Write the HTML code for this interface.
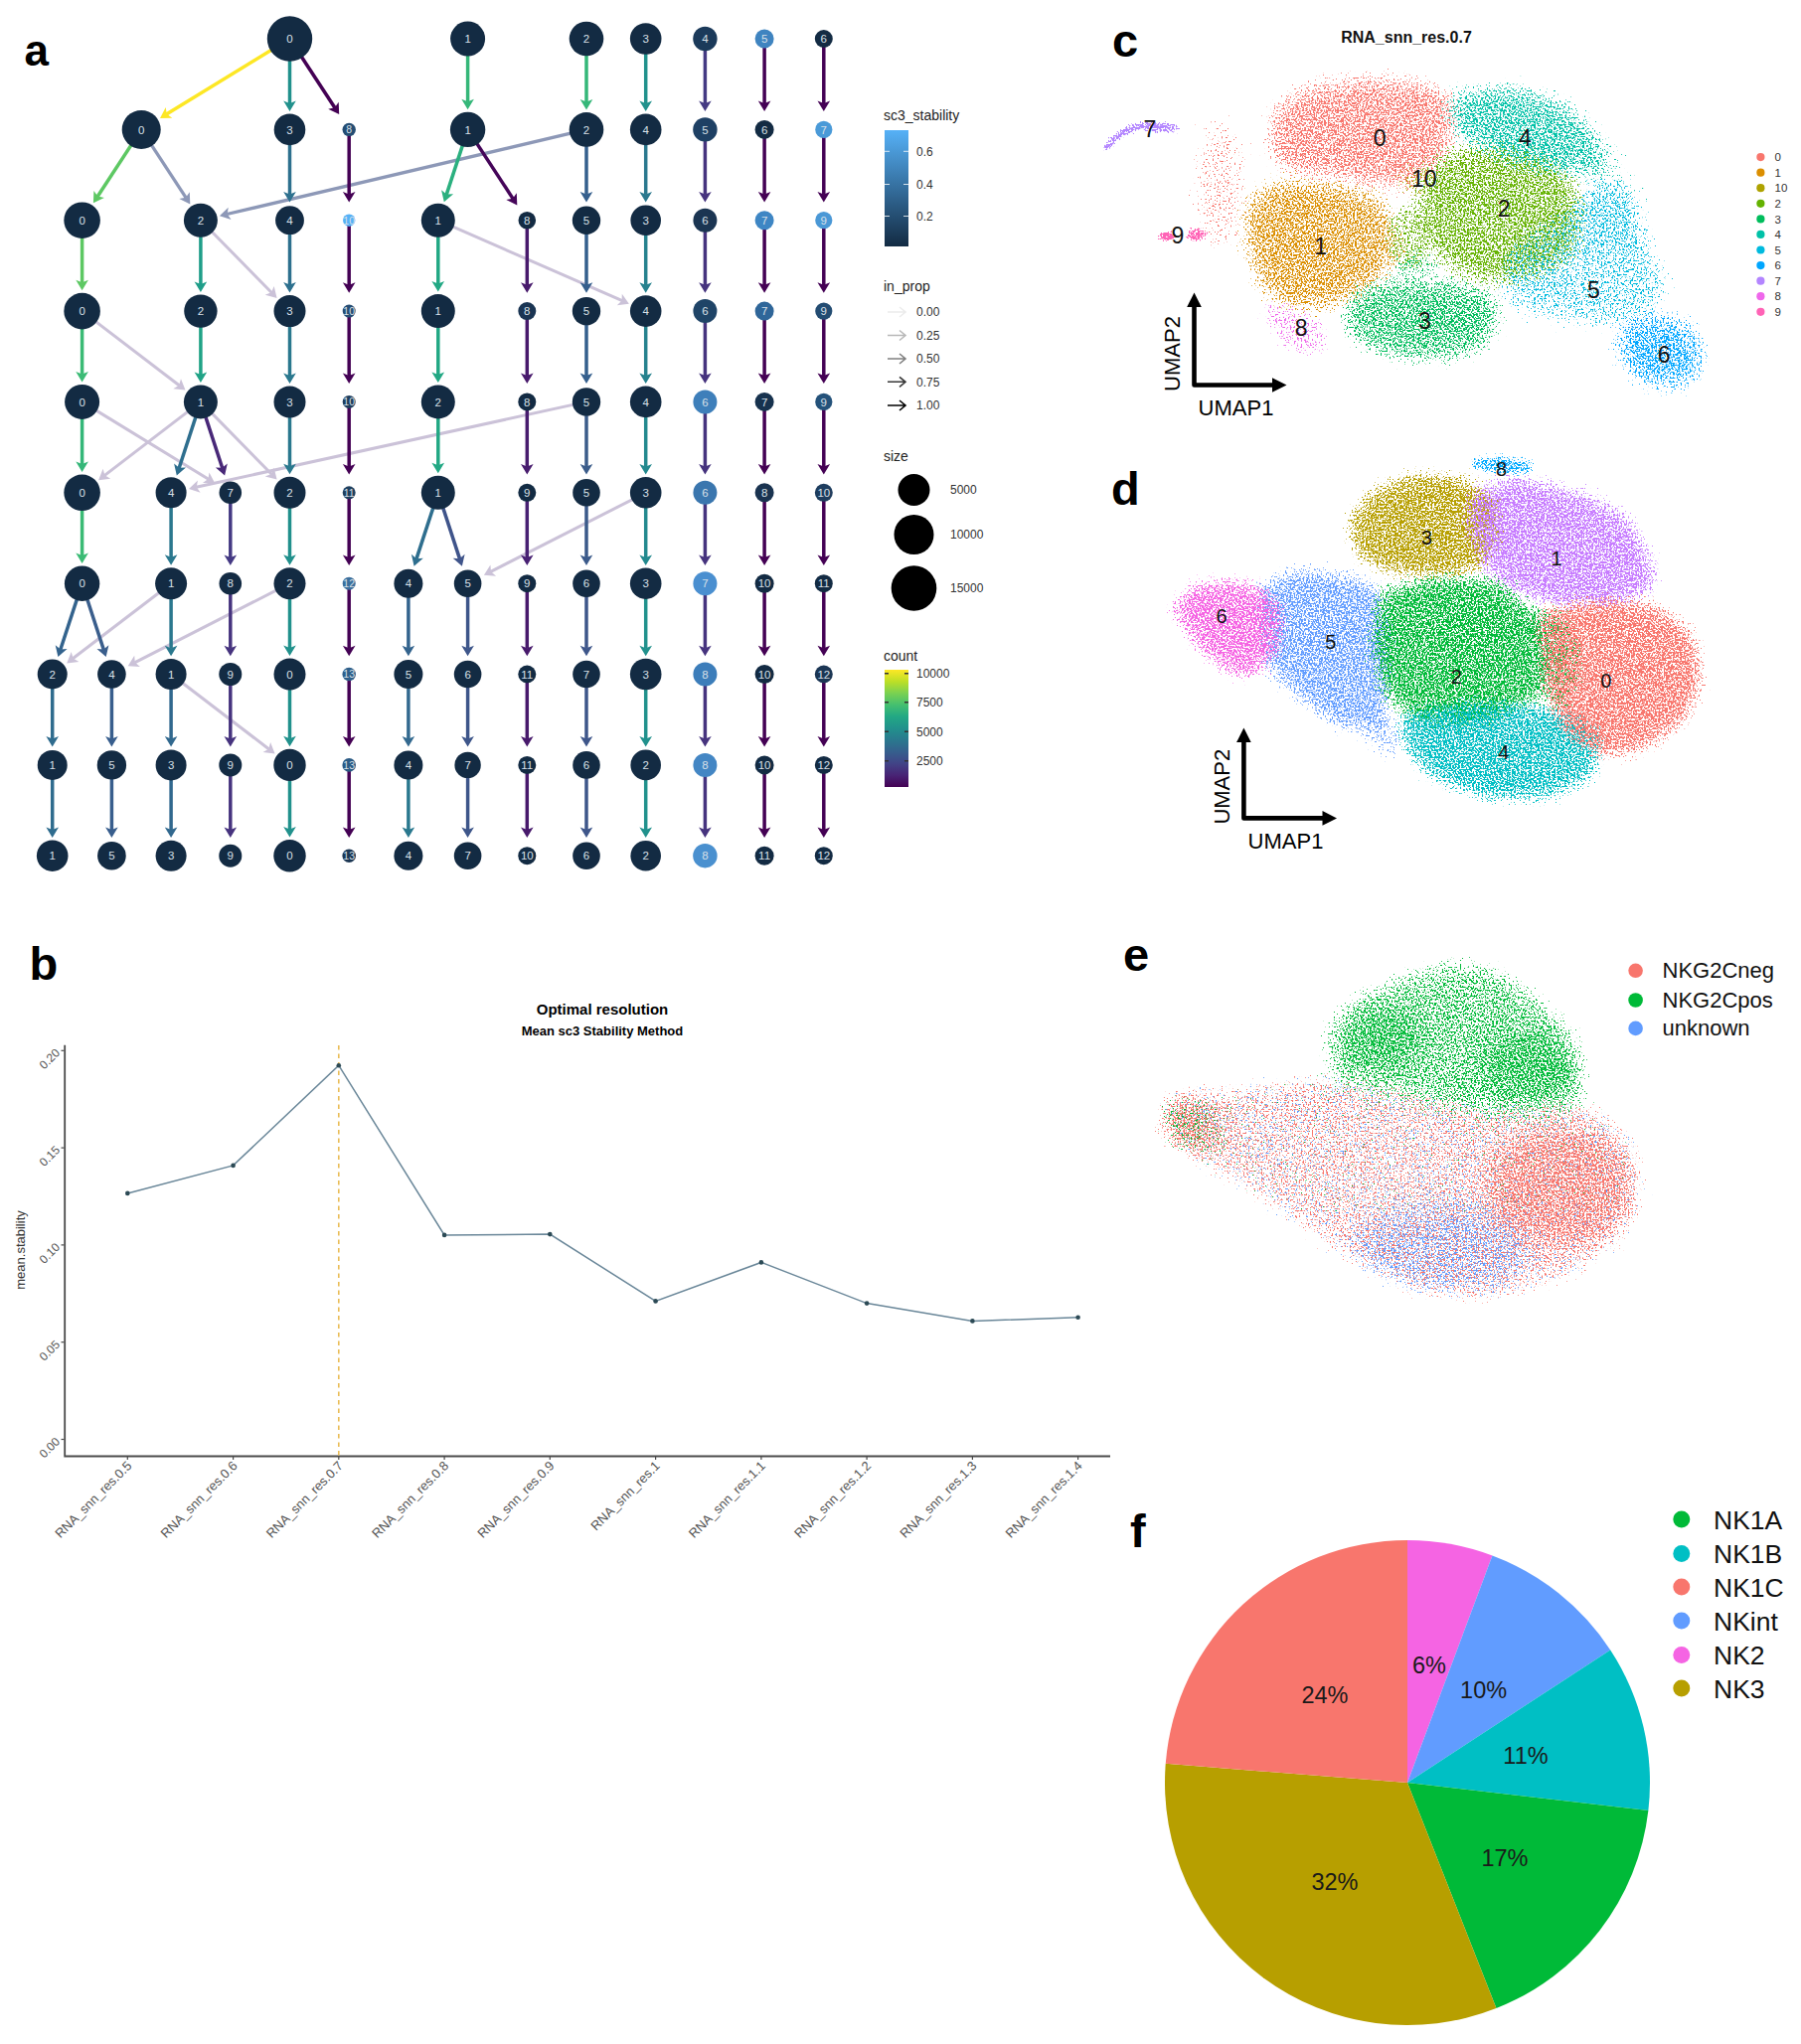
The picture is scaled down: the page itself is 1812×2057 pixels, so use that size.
<!DOCTYPE html><html><head><meta charset="utf-8"><title>Figure</title>
<style>html,body{margin:0;padding:0;background:#fff;}svg{display:block;}</style></head><body>
<svg width="1812" height="2057" viewBox="0 0 1812 2057">
<rect width="1812" height="2057" fill="#fff"/>
<defs><filter id="st1" filterUnits="userSpaceOnUse" x="1180" y="40" width="320" height="200" color-interpolation-filters="sRGB"><feGaussianBlur in="SourceAlpha" stdDeviation="12" result="b"/><feTurbulence type="fractalNoise" baseFrequency="0.55" numOctaves="2" seed="5" result="n"/><feColorMatrix in="n" type="matrix" values="0 0 0 0 0 0 0 0 0 0 0 0 0 0 0 1 0 0 0 0" result="na"/><feComposite in="b" in2="na" operator="arithmetic" k1="0" k2="0.5" k3="1" k4="-0.97" result="m"/><feComponentTransfer in="m" result="mt"><feFuncA type="linear" slope="14" intercept="0"/></feComponentTransfer><feFlood flood-color="#F8766D"/><feComposite in2="mt" operator="in"/><feGaussianBlur stdDeviation="0.35"/></filter><filter id="st2" filterUnits="userSpaceOnUse" x="1210" y="150" width="230" height="200" color-interpolation-filters="sRGB"><feGaussianBlur in="SourceAlpha" stdDeviation="12" result="b"/><feTurbulence type="fractalNoise" baseFrequency="0.55" numOctaves="2" seed="9" result="n"/><feColorMatrix in="n" type="matrix" values="0 0 0 0 0 0 0 0 0 0 0 0 0 0 0 1 0 0 0 0" result="na"/><feComposite in="b" in2="na" operator="arithmetic" k1="0" k2="0.5" k3="1" k4="-0.97" result="m"/><feComponentTransfer in="m" result="mt"><feFuncA type="linear" slope="14" intercept="0"/></feComponentTransfer><feFlood flood-color="#DB8E00"/><feComposite in2="mt" operator="in"/><feGaussianBlur stdDeviation="0.35"/></filter><filter id="st3" filterUnits="userSpaceOnUse" x="1370" y="130" width="120" height="110" color-interpolation-filters="sRGB"><feGaussianBlur in="SourceAlpha" stdDeviation="12" result="b"/><feTurbulence type="fractalNoise" baseFrequency="0.55" numOctaves="2" seed="13" result="n"/><feColorMatrix in="n" type="matrix" values="0 0 0 0 0 0 0 0 0 0 0 0 0 0 0 1 0 0 0 0" result="na"/><feComposite in="b" in2="na" operator="arithmetic" k1="0" k2="0.5" k3="1" k4="-0.97" result="m"/><feComponentTransfer in="m" result="mt"><feFuncA type="linear" slope="14" intercept="0"/></feComponentTransfer><feFlood flood-color="#AEA200"/><feComposite in2="mt" operator="in"/><feGaussianBlur stdDeviation="0.35"/></filter><filter id="st4" filterUnits="userSpaceOnUse" x="1390" y="110" width="240" height="210" color-interpolation-filters="sRGB"><feGaussianBlur in="SourceAlpha" stdDeviation="12" result="b"/><feTurbulence type="fractalNoise" baseFrequency="0.55" numOctaves="2" seed="17" result="n"/><feColorMatrix in="n" type="matrix" values="0 0 0 0 0 0 0 0 0 0 0 0 0 0 0 1 0 0 0 0" result="na"/><feComposite in="b" in2="na" operator="arithmetic" k1="0" k2="0.5" k3="1" k4="-0.97" result="m"/><feComponentTransfer in="m" result="mt"><feFuncA type="linear" slope="14" intercept="0"/></feComponentTransfer><feFlood flood-color="#64B200"/><feComposite in2="mt" operator="in"/><feGaussianBlur stdDeviation="0.35"/></filter><filter id="st5" filterUnits="userSpaceOnUse" x="1320" y="250" width="220" height="140" color-interpolation-filters="sRGB"><feGaussianBlur in="SourceAlpha" stdDeviation="12" result="b"/><feTurbulence type="fractalNoise" baseFrequency="0.55" numOctaves="2" seed="21" result="n"/><feColorMatrix in="n" type="matrix" values="0 0 0 0 0 0 0 0 0 0 0 0 0 0 0 1 0 0 0 0" result="na"/><feComposite in="b" in2="na" operator="arithmetic" k1="0" k2="0.5" k3="1" k4="-0.97" result="m"/><feComponentTransfer in="m" result="mt"><feFuncA type="linear" slope="14" intercept="0"/></feComponentTransfer><feFlood flood-color="#00BD5C"/><feComposite in2="mt" operator="in"/><feGaussianBlur stdDeviation="0.35"/></filter><filter id="st6" filterUnits="userSpaceOnUse" x="1430" y="50" width="250" height="190" color-interpolation-filters="sRGB"><feGaussianBlur in="SourceAlpha" stdDeviation="12" result="b"/><feTurbulence type="fractalNoise" baseFrequency="0.55" numOctaves="2" seed="25" result="n"/><feColorMatrix in="n" type="matrix" values="0 0 0 0 0 0 0 0 0 0 0 0 0 0 0 1 0 0 0 0" result="na"/><feComposite in="b" in2="na" operator="arithmetic" k1="0" k2="0.5" k3="1" k4="-0.97" result="m"/><feComponentTransfer in="m" result="mt"><feFuncA type="linear" slope="14" intercept="0"/></feComponentTransfer><feFlood flood-color="#00C1A7"/><feComposite in2="mt" operator="in"/><feGaussianBlur stdDeviation="0.35"/></filter><filter id="st7" filterUnits="userSpaceOnUse" x="1480" y="180" width="250" height="210" color-interpolation-filters="sRGB"><feGaussianBlur in="SourceAlpha" stdDeviation="12" result="b"/><feTurbulence type="fractalNoise" baseFrequency="0.55" numOctaves="2" seed="29" result="n"/><feColorMatrix in="n" type="matrix" values="0 0 0 0 0 0 0 0 0 0 0 0 0 0 0 1 0 0 0 0" result="na"/><feComposite in="b" in2="na" operator="arithmetic" k1="0" k2="0.5" k3="1" k4="-0.97" result="m"/><feComponentTransfer in="m" result="mt"><feFuncA type="linear" slope="14" intercept="0"/></feComponentTransfer><feFlood flood-color="#00BADE"/><feComposite in2="mt" operator="in"/><feGaussianBlur stdDeviation="0.35"/></filter><filter id="st8" filterUnits="userSpaceOnUse" x="1590" y="290" width="160" height="130" color-interpolation-filters="sRGB"><feGaussianBlur in="SourceAlpha" stdDeviation="12" result="b"/><feTurbulence type="fractalNoise" baseFrequency="0.55" numOctaves="2" seed="33" result="n"/><feColorMatrix in="n" type="matrix" values="0 0 0 0 0 0 0 0 0 0 0 0 0 0 0 1 0 0 0 0" result="na"/><feComposite in="b" in2="na" operator="arithmetic" k1="0" k2="0.5" k3="1" k4="-0.97" result="m"/><feComponentTransfer in="m" result="mt"><feFuncA type="linear" slope="14" intercept="0"/></feComponentTransfer><feFlood flood-color="#00A6FF"/><feComposite in2="mt" operator="in"/><feGaussianBlur stdDeviation="0.35"/></filter><filter id="st9" filterUnits="userSpaceOnUse" x="1090" y="100" width="150" height="80" color-interpolation-filters="sRGB"><feGaussianBlur in="SourceAlpha" stdDeviation="2.5" result="b"/><feTurbulence type="fractalNoise" baseFrequency="0.55" numOctaves="2" seed="37" result="n"/><feColorMatrix in="n" type="matrix" values="0 0 0 0 0 0 0 0 0 0 0 0 0 0 0 1 0 0 0 0" result="na"/><feComposite in="b" in2="na" operator="arithmetic" k1="0" k2="0.6" k3="1" k4="-0.95" result="m"/><feComponentTransfer in="m" result="mt"><feFuncA type="linear" slope="14" intercept="0"/></feComponentTransfer><feFlood flood-color="#B385FF"/><feComposite in2="mt" operator="in"/><feGaussianBlur stdDeviation="0.35"/></filter><filter id="st10" filterUnits="userSpaceOnUse" x="1250" y="280" width="120" height="100" color-interpolation-filters="sRGB"><feGaussianBlur in="SourceAlpha" stdDeviation="8" result="b"/><feTurbulence type="fractalNoise" baseFrequency="0.55" numOctaves="2" seed="41" result="n"/><feColorMatrix in="n" type="matrix" values="0 0 0 0 0 0 0 0 0 0 0 0 0 0 0 1 0 0 0 0" result="na"/><feComposite in="b" in2="na" operator="arithmetic" k1="0" k2="0.5" k3="1" k4="-0.97" result="m"/><feComponentTransfer in="m" result="mt"><feFuncA type="linear" slope="14" intercept="0"/></feComponentTransfer><feFlood flood-color="#EF67EB"/><feComposite in2="mt" operator="in"/><feGaussianBlur stdDeviation="0.35"/></filter><filter id="st11" filterUnits="userSpaceOnUse" x="1150" y="215" width="85" height="45" color-interpolation-filters="sRGB"><feGaussianBlur in="SourceAlpha" stdDeviation="2.5" result="b"/><feTurbulence type="fractalNoise" baseFrequency="0.55" numOctaves="2" seed="45" result="n"/><feColorMatrix in="n" type="matrix" values="0 0 0 0 0 0 0 0 0 0 0 0 0 0 0 1 0 0 0 0" result="na"/><feComposite in="b" in2="na" operator="arithmetic" k1="0" k2="0.7" k3="1" k4="-0.95" result="m"/><feComponentTransfer in="m" result="mt"><feFuncA type="linear" slope="14" intercept="0"/></feComponentTransfer><feFlood flood-color="#FF63B6"/><feComposite in2="mt" operator="in"/><feGaussianBlur stdDeviation="0.35"/></filter><filter id="st12" filterUnits="userSpaceOnUse" x="1170" y="100" width="120" height="170" color-interpolation-filters="sRGB"><feGaussianBlur in="SourceAlpha" stdDeviation="12" result="b"/><feTurbulence type="fractalNoise" baseFrequency="0.55" numOctaves="2" seed="49" result="n"/><feColorMatrix in="n" type="matrix" values="0 0 0 0 0 0 0 0 0 0 0 0 0 0 0 1 0 0 0 0" result="na"/><feComposite in="b" in2="na" operator="arithmetic" k1="0" k2="0.5" k3="1" k4="-0.97" result="m"/><feComponentTransfer in="m" result="mt"><feFuncA type="linear" slope="14" intercept="0"/></feComponentTransfer><feFlood flood-color="#F8766D"/><feComposite in2="mt" operator="in"/><feGaussianBlur stdDeviation="0.35"/></filter><filter id="st13" filterUnits="userSpaceOnUse" x="1370" y="180" width="90" height="90" color-interpolation-filters="sRGB"><feGaussianBlur in="SourceAlpha" stdDeviation="9" result="b"/><feTurbulence type="fractalNoise" baseFrequency="0.55" numOctaves="2" seed="53" result="n"/><feColorMatrix in="n" type="matrix" values="0 0 0 0 0 0 0 0 0 0 0 0 0 0 0 1 0 0 0 0" result="na"/><feComposite in="b" in2="na" operator="arithmetic" k1="0" k2="0.5" k3="1" k4="-0.97" result="m"/><feComponentTransfer in="m" result="mt"><feFuncA type="linear" slope="14" intercept="0"/></feComponentTransfer><feFlood flood-color="#64B200"/><feComposite in2="mt" operator="in"/><feGaussianBlur stdDeviation="0.35"/></filter><filter id="st14" filterUnits="userSpaceOnUse" x="1360" y="180" width="100" height="120" color-interpolation-filters="sRGB"><feGaussianBlur in="SourceAlpha" stdDeviation="9" result="b"/><feTurbulence type="fractalNoise" baseFrequency="0.55" numOctaves="2" seed="57" result="n"/><feColorMatrix in="n" type="matrix" values="0 0 0 0 0 0 0 0 0 0 0 0 0 0 0 1 0 0 0 0" result="na"/><feComposite in="b" in2="na" operator="arithmetic" k1="0" k2="0.5" k3="1" k4="-0.97" result="m"/><feComponentTransfer in="m" result="mt"><feFuncA type="linear" slope="14" intercept="0"/></feComponentTransfer><feFlood flood-color="#DB8E00"/><feComposite in2="mt" operator="in"/><feGaussianBlur stdDeviation="0.35"/></filter><filter id="st15" filterUnits="userSpaceOnUse" x="1360" y="220" width="100" height="100" color-interpolation-filters="sRGB"><feGaussianBlur in="SourceAlpha" stdDeviation="9" result="b"/><feTurbulence type="fractalNoise" baseFrequency="0.55" numOctaves="2" seed="61" result="n"/><feColorMatrix in="n" type="matrix" values="0 0 0 0 0 0 0 0 0 0 0 0 0 0 0 1 0 0 0 0" result="na"/><feComposite in="b" in2="na" operator="arithmetic" k1="0" k2="0.5" k3="1" k4="-0.97" result="m"/><feComponentTransfer in="m" result="mt"><feFuncA type="linear" slope="14" intercept="0"/></feComponentTransfer><feFlood flood-color="#00BD5C"/><feComposite in2="mt" operator="in"/><feGaussianBlur stdDeviation="0.35"/></filter></defs><g filter="url(#st1)"><path d="M1280 107L1313 85L1369 77L1424 79L1460 93L1466 129L1452 165L1424 190L1385 190L1347 179L1299 177L1274 152Z" fill="#000" stroke="#000" stroke-width="12" stroke-linejoin="round" opacity="1.0"/><ellipse cx="1458" cy="118" rx="14" ry="32" fill="#000" fill-opacity="0.8"/></g><g filter="url(#st2)"><path d="M1252 199L1286 179L1341 182L1385 193L1408 227L1402 271L1374 296L1335 312L1300 314L1266 290L1249 240Z" fill="#000" stroke="#000" stroke-width="12" stroke-linejoin="round" opacity="1.0"/></g><g filter="url(#st3)"><ellipse cx="1430" cy="183" rx="34" ry="24" fill="#000" fill-opacity="0.85"/></g><g filter="url(#st4)"><path d="M1447 152L1494 143L1549 152L1585 177L1596 215L1585 260L1549 282L1494 288L1452 271L1424 232L1424 185Z" fill="#000" stroke="#000" stroke-width="12" stroke-linejoin="round" opacity="1.0"/></g><g filter="url(#st5)"><path d="M1355 296L1397 279L1452 279L1494 288L1513 310L1502 346L1466 363L1410 363L1369 349L1349 327Z" fill="#000" stroke="#000" stroke-width="12" stroke-linejoin="round" opacity="1.0"/></g><g filter="url(#st6)"><path d="M1463 96L1494 85L1535 87L1577 104L1605 129L1619 157L1605 177L1563 177L1521 166L1480 149L1460 124Z" fill="#000" stroke="#000" stroke-width="12" stroke-linejoin="round" opacity="1.0"/><ellipse cx="1630" cy="185" rx="30" ry="45" transform="rotate(-30 1630 185)" fill="#000" fill-opacity="0.5"/><ellipse cx="1462" cy="112" rx="14" ry="32" fill="#000" fill-opacity="0.75"/></g><g filter="url(#st7)"><path d="M1521 240L1560 222L1598 185L1625 168L1648 205L1663 250L1680 290L1663 318L1641 327L1591 327L1549 320L1512 305L1508 265Z" fill="#000" stroke="#000" stroke-width="12" stroke-linejoin="round" opacity="0.85"/><ellipse cx="1625" cy="215" rx="35" ry="40" fill="#000" fill-opacity="0.4"/></g><g filter="url(#st8)"><path d="M1624 327L1660 313L1696 321L1716 346L1713 379L1688 393L1652 388L1630 365Z" fill="#000" stroke="#000" stroke-width="12" stroke-linejoin="round" opacity="1.0"/></g><g filter="url(#st9)"><path d="M1111 152Q1124 131 1150 126L1186 129" stroke="#000" stroke-width="9" fill="none"/><ellipse cx="1165" cy="128" rx="20" ry="6" fill="#000" fill-opacity="1"/></g><g filter="url(#st10)"><path d="M1272 300L1300 306L1330 322L1338 350L1320 362L1290 350L1272 325Z" fill="#000" stroke="#000" stroke-width="6" stroke-linejoin="round" opacity="0.8"/></g><g filter="url(#st11)"><ellipse cx="1174" cy="238" rx="10" ry="5" fill="#000" fill-opacity="1.0"/><ellipse cx="1204" cy="236" rx="12" ry="8" fill="#000" fill-opacity="0.8"/></g><g filter="url(#st12)"><ellipse cx="1228" cy="185" rx="32" ry="75" fill="#000" fill-opacity="0.72"/></g><g filter="url(#st13)"><ellipse cx="1418" cy="240" rx="30" ry="42" fill="#000" fill-opacity="0.86"/></g><g filter="url(#st14)"><ellipse cx="1405" cy="250" rx="18" ry="30" fill="#000" fill-opacity="0.7"/></g><g filter="url(#st15)"><ellipse cx="1425" cy="268" rx="30" ry="20" fill="#000" fill-opacity="0.85"/></g>
<text x="1415" y="43.3" font-family="Liberation Sans, Arial, sans-serif" font-size="16" font-weight="bold" fill="#111" text-anchor="middle">RNA_snn_res.0.7</text>
<text x="1388.2" y="147.3" font-family="Liberation Sans, Arial, sans-serif" font-size="23" fill="#111" text-anchor="middle">0</text>
<text x="1534.5" y="147.3" font-family="Liberation Sans, Arial, sans-serif" font-size="23" fill="#111" text-anchor="middle">4</text>
<text x="1432.7" y="188.1" font-family="Liberation Sans, Arial, sans-serif" font-size="23" fill="#111" text-anchor="middle">10</text>
<text x="1513.2" y="218.1" font-family="Liberation Sans, Arial, sans-serif" font-size="23" fill="#111" text-anchor="middle">2</text>
<text x="1328.6" y="255.6" font-family="Liberation Sans, Arial, sans-serif" font-size="23" fill="#111" text-anchor="middle">1</text>
<text x="1603.4" y="300.0" font-family="Liberation Sans, Arial, sans-serif" font-size="23" fill="#111" text-anchor="middle">5</text>
<text x="1433.5" y="330.6" font-family="Liberation Sans, Arial, sans-serif" font-size="23" fill="#111" text-anchor="middle">3</text>
<text x="1309.1" y="337.5" font-family="Liberation Sans, Arial, sans-serif" font-size="23" fill="#111" text-anchor="middle">8</text>
<text x="1674.2" y="365.2" font-family="Liberation Sans, Arial, sans-serif" font-size="23" fill="#111" text-anchor="middle">6</text>
<text x="1157" y="138.2" font-family="Liberation Sans, Arial, sans-serif" font-size="23" fill="#111" text-anchor="middle">7</text>
<text x="1185" y="245.2" font-family="Liberation Sans, Arial, sans-serif" font-size="23" fill="#111" text-anchor="middle">9</text>
<circle cx="1771.4" cy="158.1" r="4.1" fill="#F8766D"/>
<text x="1785.5" y="162.2" font-family="Liberation Sans, Arial, sans-serif" font-size="11.5" fill="#333">0</text>
<circle cx="1771.4" cy="173.7" r="4.1" fill="#DB8E00"/>
<text x="1785.5" y="177.8" font-family="Liberation Sans, Arial, sans-serif" font-size="11.5" fill="#333">1</text>
<circle cx="1771.4" cy="189.2" r="4.1" fill="#AEA200"/>
<text x="1785.5" y="193.3" font-family="Liberation Sans, Arial, sans-serif" font-size="11.5" fill="#333">10</text>
<circle cx="1771.4" cy="204.8" r="4.1" fill="#64B200"/>
<text x="1785.5" y="208.9" font-family="Liberation Sans, Arial, sans-serif" font-size="11.5" fill="#333">2</text>
<circle cx="1771.4" cy="220.4" r="4.1" fill="#00BD5C"/>
<text x="1785.5" y="224.5" font-family="Liberation Sans, Arial, sans-serif" font-size="11.5" fill="#333">3</text>
<circle cx="1771.4" cy="235.9" r="4.1" fill="#00C1A7"/>
<text x="1785.5" y="240.0" font-family="Liberation Sans, Arial, sans-serif" font-size="11.5" fill="#333">4</text>
<circle cx="1771.4" cy="251.5" r="4.1" fill="#00BADE"/>
<text x="1785.5" y="255.6" font-family="Liberation Sans, Arial, sans-serif" font-size="11.5" fill="#333">5</text>
<circle cx="1771.4" cy="267.1" r="4.1" fill="#00A6FF"/>
<text x="1785.5" y="271.2" font-family="Liberation Sans, Arial, sans-serif" font-size="11.5" fill="#333">6</text>
<circle cx="1771.4" cy="282.7" r="4.1" fill="#B385FF"/>
<text x="1785.5" y="286.8" font-family="Liberation Sans, Arial, sans-serif" font-size="11.5" fill="#333">7</text>
<circle cx="1771.4" cy="298.2" r="4.1" fill="#EF67EB"/>
<text x="1785.5" y="302.3" font-family="Liberation Sans, Arial, sans-serif" font-size="11.5" fill="#333">8</text>
<circle cx="1771.4" cy="313.8" r="4.1" fill="#FF63B6"/>
<text x="1785.5" y="317.9" font-family="Liberation Sans, Arial, sans-serif" font-size="11.5" fill="#333">9</text>
<path d="M1201.5 304.5V387.5H1284.5" stroke="#000" stroke-width="4.6" fill="none" stroke-linejoin="round"/>
<path d="M1194.2 309.0L1201.5 294.5L1208.8 309.0Z" fill="#000"/>
<path d="M1280.0 380.2L1294.5 387.5L1280.0 394.8Z" fill="#000"/>
<text transform="translate(1187 356) rotate(-90)" font-family="Liberation Sans, Arial, sans-serif" font-size="22" fill="#000" text-anchor="middle">UMAP2</text>
<text x="1243.5" y="417.5" font-family="Liberation Sans, Arial, sans-serif" font-size="22" fill="#000" text-anchor="middle">UMAP1</text>
<defs><filter id="st16" filterUnits="userSpaceOnUse" x="1220" y="530" width="230" height="270" color-interpolation-filters="sRGB"><feGaussianBlur in="SourceAlpha" stdDeviation="10" result="b"/><feTurbulence type="fractalNoise" baseFrequency="0.55" numOctaves="2" seed="3" result="n"/><feColorMatrix in="n" type="matrix" values="0 0 0 0 0 0 0 0 0 0 0 0 0 0 0 1 0 0 0 0" result="na"/><feComposite in="b" in2="na" operator="arithmetic" k1="0" k2="0.56" k3="1" k4="-0.99" result="m"/><feComponentTransfer in="m" result="mt"><feFuncA type="linear" slope="14" intercept="0"/></feComponentTransfer><feFlood flood-color="#619CFF"/><feComposite in2="mt" operator="in"/><feGaussianBlur stdDeviation="0.35"/></filter><filter id="st17" filterUnits="userSpaceOnUse" x="1150" y="550" width="170" height="170" color-interpolation-filters="sRGB"><feGaussianBlur in="SourceAlpha" stdDeviation="10" result="b"/><feTurbulence type="fractalNoise" baseFrequency="0.55" numOctaves="2" seed="7" result="n"/><feColorMatrix in="n" type="matrix" values="0 0 0 0 0 0 0 0 0 0 0 0 0 0 0 1 0 0 0 0" result="na"/><feComposite in="b" in2="na" operator="arithmetic" k1="0" k2="0.56" k3="1" k4="-0.99" result="m"/><feComponentTransfer in="m" result="mt"><feFuncA type="linear" slope="14" intercept="0"/></feComponentTransfer><feFlood flood-color="#F564E3"/><feComposite in2="mt" operator="in"/><feGaussianBlur stdDeviation="0.35"/></filter><filter id="st18" filterUnits="userSpaceOnUse" x="1320" y="440" width="240" height="180" color-interpolation-filters="sRGB"><feGaussianBlur in="SourceAlpha" stdDeviation="10" result="b"/><feTurbulence type="fractalNoise" baseFrequency="0.55" numOctaves="2" seed="11" result="n"/><feColorMatrix in="n" type="matrix" values="0 0 0 0 0 0 0 0 0 0 0 0 0 0 0 1 0 0 0 0" result="na"/><feComposite in="b" in2="na" operator="arithmetic" k1="0" k2="0.56" k3="1" k4="-0.99" result="m"/><feComponentTransfer in="m" result="mt"><feFuncA type="linear" slope="14" intercept="0"/></feComponentTransfer><feFlood flood-color="#B79F00"/><feComposite in2="mt" operator="in"/><feGaussianBlur stdDeviation="0.35"/></filter><filter id="st19" filterUnits="userSpaceOnUse" x="1450" y="440" width="250" height="220" color-interpolation-filters="sRGB"><feGaussianBlur in="SourceAlpha" stdDeviation="10" result="b"/><feTurbulence type="fractalNoise" baseFrequency="0.55" numOctaves="2" seed="15" result="n"/><feColorMatrix in="n" type="matrix" values="0 0 0 0 0 0 0 0 0 0 0 0 0 0 0 1 0 0 0 0" result="na"/><feComposite in="b" in2="na" operator="arithmetic" k1="0" k2="0.56" k3="1" k4="-0.99" result="m"/><feComponentTransfer in="m" result="mt"><feFuncA type="linear" slope="14" intercept="0"/></feComponentTransfer><feFlood flood-color="#C77CFF"/><feComposite in2="mt" operator="in"/><feGaussianBlur stdDeviation="0.35"/></filter><filter id="st20" filterUnits="userSpaceOnUse" x="1340" y="540" width="300" height="250" color-interpolation-filters="sRGB"><feGaussianBlur in="SourceAlpha" stdDeviation="10" result="b"/><feTurbulence type="fractalNoise" baseFrequency="0.55" numOctaves="2" seed="19" result="n"/><feColorMatrix in="n" type="matrix" values="0 0 0 0 0 0 0 0 0 0 0 0 0 0 0 1 0 0 0 0" result="na"/><feComposite in="b" in2="na" operator="arithmetic" k1="0" k2="0.56" k3="1" k4="-0.99" result="m"/><feComponentTransfer in="m" result="mt"><feFuncA type="linear" slope="14" intercept="0"/></feComponentTransfer><feFlood flood-color="#00BA38"/><feComposite in2="mt" operator="in"/><feGaussianBlur stdDeviation="0.35"/></filter><filter id="st21" filterUnits="userSpaceOnUse" x="1370" y="670" width="290" height="170" color-interpolation-filters="sRGB"><feGaussianBlur in="SourceAlpha" stdDeviation="10" result="b"/><feTurbulence type="fractalNoise" baseFrequency="0.55" numOctaves="2" seed="23" result="n"/><feColorMatrix in="n" type="matrix" values="0 0 0 0 0 0 0 0 0 0 0 0 0 0 0 1 0 0 0 0" result="na"/><feComposite in="b" in2="na" operator="arithmetic" k1="0" k2="0.56" k3="1" k4="-0.99" result="m"/><feComponentTransfer in="m" result="mt"><feFuncA type="linear" slope="14" intercept="0"/></feComponentTransfer><feFlood flood-color="#00BFC4"/><feComposite in2="mt" operator="in"/><feGaussianBlur stdDeviation="0.35"/></filter><filter id="st22" filterUnits="userSpaceOnUse" x="1520" y="560" width="230" height="250" color-interpolation-filters="sRGB"><feGaussianBlur in="SourceAlpha" stdDeviation="10" result="b"/><feTurbulence type="fractalNoise" baseFrequency="0.55" numOctaves="2" seed="27" result="n"/><feColorMatrix in="n" type="matrix" values="0 0 0 0 0 0 0 0 0 0 0 0 0 0 0 1 0 0 0 0" result="na"/><feComposite in="b" in2="na" operator="arithmetic" k1="0" k2="0.56" k3="1" k4="-0.99" result="m"/><feComponentTransfer in="m" result="mt"><feFuncA type="linear" slope="14" intercept="0"/></feComponentTransfer><feFlood flood-color="#F8766D"/><feComposite in2="mt" operator="in"/><feGaussianBlur stdDeviation="0.35"/></filter><filter id="st23" filterUnits="userSpaceOnUse" x="1440" y="430" width="150" height="70" color-interpolation-filters="sRGB"><feGaussianBlur in="SourceAlpha" stdDeviation="4" result="b"/><feTurbulence type="fractalNoise" baseFrequency="0.55" numOctaves="2" seed="31" result="n"/><feColorMatrix in="n" type="matrix" values="0 0 0 0 0 0 0 0 0 0 0 0 0 0 0 1 0 0 0 0" result="na"/><feComposite in="b" in2="na" operator="arithmetic" k1="0" k2="0.56" k3="1" k4="-0.99" result="m"/><feComponentTransfer in="m" result="mt"><feFuncA type="linear" slope="14" intercept="0"/></feComponentTransfer><feFlood flood-color="#00A9FF"/><feComposite in2="mt" operator="in"/><feGaussianBlur stdDeviation="0.35"/></filter></defs><g filter="url(#st16)"><path d="M1264 589L1302 573L1350 576L1388 589L1400 630L1400 693L1388 734L1350 734L1302 700L1271 668Z" fill="#000" stroke="#000" stroke-width="12" stroke-linejoin="round" opacity="0.95"/><ellipse cx="1395" cy="745" rx="22" ry="25" fill="#000" fill-opacity="0.75"/></g><g filter="url(#st17)"><path d="M1176 611L1198 589L1239 582L1277 592L1293 617L1287 655L1264 681L1239 681L1207 655Z" fill="#000" stroke="#000" stroke-width="12" stroke-linejoin="round" opacity="1.0"/></g><g filter="url(#st18)"><path d="M1356 522L1382 491L1429 475L1476 481L1508 503L1511 544L1492 573L1445 582L1397 576L1363 560Z" fill="#000" stroke="#000" stroke-width="12" stroke-linejoin="round" opacity="1.0"/></g><g filter="url(#st19)"><path d="M1476 497L1524 478L1587 494L1635 516L1663 560L1666 592L1628 611L1571 611L1524 598L1492 573L1476 535Z" fill="#000" stroke="#000" stroke-width="12" stroke-linejoin="round" opacity="1.0"/></g><g filter="url(#st20)"><path d="M1388 592L1445 579L1508 582L1549 617L1556 662L1540 709L1492 734L1429 731L1391 700L1378 646Z" fill="#000" stroke="#000" stroke-width="12" stroke-linejoin="round" opacity="1.0"/><ellipse cx="1570" cy="665" rx="28" ry="60" fill="#000" fill-opacity="0.85"/></g><g filter="url(#st21)"><path d="M1407 718L1461 706L1524 706L1587 718L1613 744L1603 782L1556 804L1492 804L1438 782L1410 750Z" fill="#000" stroke="#000" stroke-width="12" stroke-linejoin="round" opacity="1.0"/></g><g filter="url(#st22)"><path d="M1550 617L1603 601L1666 608L1704 636L1714 681L1698 725L1654 756L1609 763L1575 741L1552 693Z" fill="#000" stroke="#000" stroke-width="12" stroke-linejoin="round" opacity="1.0"/><ellipse cx="1560" cy="640" rx="20" ry="40" fill="#000" fill-opacity="0.8"/></g><g filter="url(#st23)"><path d="M1478 464L1508 458L1545 466L1540 476L1508 477L1482 472Z" fill="#000" stroke="#000" stroke-width="6" stroke-linejoin="round" opacity="0.95"/></g>
<text x="1510.6" y="478.8" font-family="Liberation Sans, Arial, sans-serif" font-size="20" fill="#111" text-anchor="middle">8</text>
<text x="1435.3" y="547.8" font-family="Liberation Sans, Arial, sans-serif" font-size="20" fill="#111" text-anchor="middle">3</text>
<text x="1566" y="569.0" font-family="Liberation Sans, Arial, sans-serif" font-size="20" fill="#111" text-anchor="middle">1</text>
<text x="1229" y="626.9" font-family="Liberation Sans, Arial, sans-serif" font-size="20" fill="#111" text-anchor="middle">6</text>
<text x="1338.8" y="652.9" font-family="Liberation Sans, Arial, sans-serif" font-size="20" fill="#111" text-anchor="middle">5</text>
<text x="1465.4" y="687.7" font-family="Liberation Sans, Arial, sans-serif" font-size="20" fill="#111" text-anchor="middle">2</text>
<text x="1615.7" y="691.5" font-family="Liberation Sans, Arial, sans-serif" font-size="20" fill="#111" text-anchor="middle">0</text>
<text x="1512.8" y="763.7" font-family="Liberation Sans, Arial, sans-serif" font-size="20" fill="#111" text-anchor="middle">4</text>
<path d="M1251.4 742.4V823.4H1335" stroke="#000" stroke-width="4.6" fill="none" stroke-linejoin="round"/>
<path d="M1244.1000000000001 746.9L1251.4 732.4L1258.7 746.9Z" fill="#000"/>
<path d="M1330.5 816.1L1345 823.4L1330.5 830.6999999999999Z" fill="#000"/>
<text transform="translate(1237 791.7) rotate(-90)" font-family="Liberation Sans, Arial, sans-serif" font-size="22" fill="#000" text-anchor="middle">UMAP2</text>
<text x="1293.5" y="854" font-family="Liberation Sans, Arial, sans-serif" font-size="22" fill="#000" text-anchor="middle">UMAP1</text>
<defs><filter id="st24" filterUnits="userSpaceOnUse" x="1130" y="1050" width="560" height="290" color-interpolation-filters="sRGB"><feGaussianBlur in="SourceAlpha" stdDeviation="12" result="b"/><feTurbulence type="fractalNoise" baseFrequency="0.55" numOctaves="2" seed="11" result="n"/><feColorMatrix in="n" type="matrix" values="0 0 0 0 0 0 0 0 0 0 0 0 0 0 0 1 0 0 0 0" result="na"/><feComposite in="b" in2="na" operator="arithmetic" k1="0" k2="0.55" k3="1" k4="-0.98" result="m"/><feComponentTransfer in="m" result="mt"><feFuncA type="linear" slope="14" intercept="0"/></feComponentTransfer><feFlood flood-color="#619CFF"/><feComposite in2="mt" operator="in"/><feGaussianBlur stdDeviation="0.35"/></filter><filter id="st25" filterUnits="userSpaceOnUse" x="1130" y="1050" width="560" height="290" color-interpolation-filters="sRGB"><feGaussianBlur in="SourceAlpha" stdDeviation="12" result="b"/><feTurbulence type="fractalNoise" baseFrequency="0.55" numOctaves="2" seed="23" result="n"/><feColorMatrix in="n" type="matrix" values="0 0 0 0 0 0 0 0 0 0 0 0 0 0 0 1 0 0 0 0" result="na"/><feComposite in="b" in2="na" operator="arithmetic" k1="0" k2="0.55" k3="1" k4="-0.98" result="m"/><feComponentTransfer in="m" result="mt"><feFuncA type="linear" slope="14" intercept="0"/></feComponentTransfer><feFlood flood-color="#F8766D"/><feComposite in2="mt" operator="in"/><feGaussianBlur stdDeviation="0.35"/></filter><filter id="st26" filterUnits="userSpaceOnUse" x="1130" y="930" width="520" height="290" color-interpolation-filters="sRGB"><feGaussianBlur in="SourceAlpha" stdDeviation="12" result="b"/><feTurbulence type="fractalNoise" baseFrequency="0.55" numOctaves="2" seed="37" result="n"/><feColorMatrix in="n" type="matrix" values="0 0 0 0 0 0 0 0 0 0 0 0 0 0 0 1 0 0 0 0" result="na"/><feComposite in="b" in2="na" operator="arithmetic" k1="0" k2="0.55" k3="1" k4="-0.98" result="m"/><feComponentTransfer in="m" result="mt"><feFuncA type="linear" slope="14" intercept="0"/></feComponentTransfer><feFlood flood-color="#00BA38"/><feComposite in2="mt" operator="in"/><feGaussianBlur stdDeviation="0.35"/></filter></defs><g filter="url(#st24)"><path d="M1158 1108L1185 1090L1224 1090L1275 1084L1335 1075L1410 1088L1485 1102L1575 1100L1620 1115L1656 1156L1656 1210L1635 1255L1575 1294L1500 1315L1425 1309L1365 1279L1305 1240L1260 1210L1215 1180L1176 1156Z" fill="#000" fill-opacity="0.62"/><ellipse cx="1450" cy="1255" rx="90" ry="45" fill="#000" fill-opacity="0.6"/></g><g filter="url(#st25)"><path d="M1158 1108L1185 1090L1224 1090L1275 1084L1335 1075L1410 1088L1485 1102L1575 1100L1620 1115L1656 1156L1656 1210L1635 1255L1575 1294L1500 1315L1425 1309L1365 1279L1305 1240L1260 1210L1215 1180L1176 1156Z" fill="#000" fill-opacity="0.72"/><ellipse cx="1570" cy="1195" rx="75" ry="60" fill="#000" fill-opacity="0.82"/><ellipse cx="1195" cy="1135" rx="35" ry="30" transform="rotate(30 1195 1135)" fill="#000" fill-opacity="0.8"/></g><g filter="url(#st26)"><path d="M1326 1039L1356 1000L1410 976L1455 961L1500 967L1545 994L1584 1030L1602 1075L1595 1112L1545 1122L1485 1120L1425 1105L1380 1098L1335 1085Z" fill="#000" fill-opacity="0.86"/><ellipse cx="1392" cy="1045" rx="40" ry="28" fill="#000" fill-opacity="0.95"/><ellipse cx="1540" cy="1070" rx="50" ry="30" fill="#000" fill-opacity="0.95"/><path d="M1158 1108L1185 1090L1224 1090L1275 1084L1335 1075L1410 1088L1485 1102L1575 1100L1620 1115L1656 1156L1656 1210L1635 1255L1575 1294L1500 1315L1425 1309L1365 1279L1305 1240L1260 1210L1215 1180L1176 1156Z" fill="#000" fill-opacity="0.45"/><ellipse cx="1195" cy="1135" rx="35" ry="30" transform="rotate(30 1195 1135)" fill="#000" fill-opacity="0.5"/></g>
<circle cx="1645.6" cy="976.8" r="7.3" fill="#F8766D"/>
<text x="1672.5" y="984.3" font-family="Liberation Sans, Arial, sans-serif" font-size="22" fill="#111">NKG2Cneg</text>
<circle cx="1645.6" cy="1006.5" r="7.3" fill="#00BA38"/>
<text x="1672.5" y="1014" font-family="Liberation Sans, Arial, sans-serif" font-size="22" fill="#111">NKG2Cpos</text>
<circle cx="1645.6" cy="1034.9" r="7.3" fill="#619CFF"/>
<text x="1672.5" y="1042.4" font-family="Liberation Sans, Arial, sans-serif" font-size="22" fill="#111">unknown</text>
<path d="M201.9 221.7L273.3 294.5" stroke="#CBC2D8" stroke-width="3.0" fill="none"/><path d="M278.6 299.9L266.7 296.8L273.0 294.2L275.7 288.0Z" fill="#CBC2D8"/>
<path d="M440.8 221.7L626.1 302.7" stroke="#CBC2D8" stroke-width="3.0" fill="none"/><path d="M632.9 305.7L620.8 307.3L625.6 302.5L625.8 295.8Z" fill="#CBC2D8"/>
<path d="M82.6 313.1L180.5 388.0" stroke="#CBC2D8" stroke-width="3.0" fill="none"/><path d="M186.5 392.6L174.3 391.2L180.1 387.7L182.0 381.2Z" fill="#CBC2D8"/>
<path d="M82.6 404.4L209.8 482.3" stroke="#CBC2D8" stroke-width="3.0" fill="none"/><path d="M216.2 486.2L203.9 486.1L209.4 482.1L210.5 475.4Z" fill="#CBC2D8"/>
<path d="M201.9 404.4L105.0 478.6" stroke="#CBC2D8" stroke-width="3.0" fill="none"/><path d="M99.1 483.2L103.6 471.8L105.4 478.3L111.2 481.8Z" fill="#CBC2D8"/>
<path d="M201.9 404.4L273.3 477.2" stroke="#CBC2D8" stroke-width="3.0" fill="none"/><path d="M278.6 482.6L266.7 479.5L273.0 476.9L275.7 470.7Z" fill="#CBC2D8"/>
<path d="M590.0 404.4L197.3 490.3" stroke="#CBC2D8" stroke-width="3.0" fill="none"/><path d="M190.0 491.9L198.9 483.5L197.8 490.2L201.6 495.8Z" fill="#CBC2D8"/>
<path d="M649.7 495.8L493.6 575.4" stroke="#CBC2D8" stroke-width="3.0" fill="none"/><path d="M486.9 578.8L493.4 568.5L494.0 575.2L499.1 579.7Z" fill="#CBC2D8"/>
<path d="M172.1 587.2L73.2 662.8" stroke="#CBC2D8" stroke-width="3.0" fill="none"/><path d="M67.2 667.4L71.7 656.0L73.6 662.5L79.4 666.0Z" fill="#CBC2D8"/>
<path d="M291.5 587.2L135.4 666.8" stroke="#CBC2D8" stroke-width="3.0" fill="none"/><path d="M128.7 670.2L135.2 659.8L135.8 666.6L140.9 671.0Z" fill="#CBC2D8"/>
<path d="M172.1 678.5L270.7 754.0" stroke="#CBC2D8" stroke-width="3.0" fill="none"/><path d="M276.6 758.5L264.5 757.1L270.3 753.7L272.1 747.1Z" fill="#CBC2D8"/>
<path d="M142.2 130.4L187.2 199.1" stroke="#8D98B7" stroke-width="3.3" fill="none"/><path d="M191.3 205.4L180.3 200.1L186.9 198.7L190.8 193.2Z" fill="#8D98B7"/>
<path d="M590.0 130.4L228.2 215.5" stroke="#8D98B7" stroke-width="3.3" fill="none"/><path d="M220.9 217.3L229.7 208.7L228.7 215.4L232.6 221.0Z" fill="#8D98B7"/>
<path d="M291.5 39.0L167.4 115.0" stroke="#FDE725" stroke-width="3.5" fill="none"/><path d="M161.0 118.9L166.7 108.0L167.8 114.7L173.3 118.8Z" fill="#FDE725"/>
<path d="M291.5 39.0L291.5 104.6" stroke="#21918C" stroke-width="3.5" fill="none"/><path d="M291.5 112.1L285.2 101.6L291.5 104.1L297.8 101.6Z" fill="#21918C"/>
<path d="M291.5 39.0L337.1 108.8" stroke="#440154" stroke-width="3.5" fill="none"/><path d="M341.2 115.0L330.2 109.7L336.8 108.3L340.7 102.8Z" fill="#440154"/>
<path d="M470.6 39.0L470.6 102.7" stroke="#35B779" stroke-width="3.5" fill="none"/><path d="M470.6 110.2L464.3 99.7L470.6 102.2L476.9 99.7Z" fill="#35B779"/>
<path d="M590.0 39.0L590.0 103.1" stroke="#35B779" stroke-width="3.5" fill="none"/><path d="M590.0 110.6L583.7 100.1L590.0 102.6L596.3 100.1Z" fill="#35B779"/>
<path d="M649.7 39.0L649.7 104.6" stroke="#21918C" stroke-width="3.5" fill="none"/><path d="M649.7 112.1L643.4 101.6L649.7 104.1L656.0 101.6Z" fill="#21918C"/>
<path d="M709.4 39.0L709.4 104.6" stroke="#443A83" stroke-width="3.5" fill="none"/><path d="M709.4 112.1L703.1 101.6L709.4 104.1L715.7 101.6Z" fill="#443A83"/>
<path d="M769.1 39.0L769.1 104.6" stroke="#440154" stroke-width="3.5" fill="none"/><path d="M769.1 112.1L762.8 101.6L769.1 104.1L775.4 101.6Z" fill="#440154"/>
<path d="M828.8 39.0L828.8 104.6" stroke="#440154" stroke-width="3.5" fill="none"/><path d="M828.8 112.1L822.5 101.6L828.8 104.1L835.1 101.6Z" fill="#440154"/>
<path d="M142.2 130.4L98.0 198.0" stroke="#5DC863" stroke-width="3.5" fill="none"/><path d="M93.9 204.3L94.4 192.1L98.3 197.6L104.9 199.0Z" fill="#5DC863"/>
<path d="M291.5 130.4L291.5 195.9" stroke="#2D708E" stroke-width="3.5" fill="none"/><path d="M291.5 203.4L285.2 192.9L291.5 195.4L297.8 192.9Z" fill="#2D708E"/>
<path d="M351.2 130.4L351.2 195.9" stroke="#440154" stroke-width="3.5" fill="none"/><path d="M351.2 203.4L344.9 192.9L351.2 195.4L357.5 192.9Z" fill="#440154"/>
<path d="M470.6 130.4L449.1 196.1" stroke="#2BB07F" stroke-width="3.5" fill="none"/><path d="M446.8 203.2L444.1 191.2L449.3 195.6L456.1 195.2Z" fill="#2BB07F"/>
<path d="M470.6 130.4L516.2 200.1" stroke="#450559" stroke-width="3.5" fill="none"/><path d="M520.3 206.4L509.3 201.1L515.9 199.7L519.8 194.2Z" fill="#450559"/>
<path d="M590.0 130.4L590.0 195.9" stroke="#355F8D" stroke-width="3.5" fill="none"/><path d="M590.0 203.4L583.7 192.9L590.0 195.4L596.3 192.9Z" fill="#355F8D"/>
<path d="M649.7 130.4L649.7 195.9" stroke="#2A788E" stroke-width="3.5" fill="none"/><path d="M649.7 203.4L643.4 192.9L649.7 195.4L656.0 192.9Z" fill="#2A788E"/>
<path d="M709.4 130.4L709.4 195.9" stroke="#46337E" stroke-width="3.5" fill="none"/><path d="M709.4 203.4L703.1 192.9L709.4 195.4L715.7 192.9Z" fill="#46337E"/>
<path d="M769.1 130.4L769.1 195.9" stroke="#440154" stroke-width="3.5" fill="none"/><path d="M769.1 203.4L762.8 192.9L769.1 195.4L775.4 192.9Z" fill="#440154"/>
<path d="M828.8 130.4L828.8 195.9" stroke="#440154" stroke-width="3.5" fill="none"/><path d="M828.8 203.4L822.5 192.9L828.8 195.4L835.1 192.9Z" fill="#440154"/>
<path d="M82.6 221.7L82.6 284.8" stroke="#5DC863" stroke-width="3.5" fill="none"/><path d="M82.6 292.3L76.3 281.8L82.6 284.3L88.9 281.8Z" fill="#5DC863"/>
<path d="M201.9 221.7L201.9 286.4" stroke="#1F9E89" stroke-width="3.5" fill="none"/><path d="M201.9 293.9L195.6 283.4L201.9 285.9L208.2 283.4Z" fill="#1F9E89"/>
<path d="M291.5 221.7L291.5 287.1" stroke="#2D708E" stroke-width="3.5" fill="none"/><path d="M291.5 294.6L285.2 284.1L291.5 286.6L297.8 284.1Z" fill="#2D708E"/>
<path d="M351.2 221.7L351.2 287.3" stroke="#440154" stroke-width="3.5" fill="none"/><path d="M351.2 294.8L344.9 284.3L351.2 286.8L357.5 284.3Z" fill="#440154"/>
<path d="M440.8 221.7L440.8 286.1" stroke="#22A884" stroke-width="3.5" fill="none"/><path d="M440.8 293.6L434.4 283.1L440.8 285.6L447.1 283.1Z" fill="#22A884"/>
<path d="M530.3 221.7L530.3 287.3" stroke="#481A6C" stroke-width="3.5" fill="none"/><path d="M530.3 294.8L524.0 284.3L530.3 286.8L536.6 284.3Z" fill="#481A6C"/>
<path d="M590.0 221.7L590.0 287.3" stroke="#355F8D" stroke-width="3.5" fill="none"/><path d="M590.0 294.8L583.7 284.3L590.0 286.8L596.3 284.3Z" fill="#355F8D"/>
<path d="M649.7 221.7L649.7 287.3" stroke="#26828E" stroke-width="3.5" fill="none"/><path d="M649.7 294.8L643.4 284.3L649.7 286.8L656.0 284.3Z" fill="#26828E"/>
<path d="M709.4 221.7L709.4 287.3" stroke="#46337E" stroke-width="3.5" fill="none"/><path d="M709.4 294.8L703.1 284.3L709.4 286.8L715.7 284.3Z" fill="#46337E"/>
<path d="M769.1 221.7L769.1 287.3" stroke="#440154" stroke-width="3.5" fill="none"/><path d="M769.1 294.8L762.8 284.3L769.1 286.8L775.4 284.3Z" fill="#440154"/>
<path d="M828.8 221.7L828.8 287.3" stroke="#440154" stroke-width="3.5" fill="none"/><path d="M828.8 294.8L822.5 284.3L828.8 286.8L835.1 284.3Z" fill="#440154"/>
<path d="M82.6 313.1L82.6 376.9" stroke="#3BBB75" stroke-width="3.5" fill="none"/><path d="M82.6 384.4L76.3 373.9L82.6 376.4L88.9 373.9Z" fill="#3BBB75"/>
<path d="M201.9 313.1L201.9 377.4" stroke="#20A386" stroke-width="3.5" fill="none"/><path d="M201.9 384.9L195.6 374.4L201.9 376.9L208.2 374.4Z" fill="#20A386"/>
<path d="M291.5 313.1L291.5 378.4" stroke="#2A788E" stroke-width="3.5" fill="none"/><path d="M291.5 385.9L285.2 375.4L291.5 377.9L297.8 375.4Z" fill="#2A788E"/>
<path d="M351.2 313.1L351.2 378.6" stroke="#440154" stroke-width="3.5" fill="none"/><path d="M351.2 386.1L344.9 375.6L351.2 378.1L357.5 375.6Z" fill="#440154"/>
<path d="M440.8 313.1L440.8 377.4" stroke="#22A884" stroke-width="3.5" fill="none"/><path d="M440.8 384.9L434.4 374.4L440.8 376.9L447.1 374.4Z" fill="#22A884"/>
<path d="M530.3 313.1L530.3 378.6" stroke="#481A6C" stroke-width="3.5" fill="none"/><path d="M530.3 386.1L524.0 375.6L530.3 378.1L536.6 375.6Z" fill="#481A6C"/>
<path d="M590.0 313.1L590.0 378.6" stroke="#355F8D" stroke-width="3.5" fill="none"/><path d="M590.0 386.1L583.7 375.6L590.0 378.1L596.3 375.6Z" fill="#355F8D"/>
<path d="M649.7 313.1L649.7 378.6" stroke="#26828E" stroke-width="3.5" fill="none"/><path d="M649.7 386.1L643.4 375.6L649.7 378.1L656.0 375.6Z" fill="#26828E"/>
<path d="M709.4 313.1L709.4 378.6" stroke="#46337E" stroke-width="3.5" fill="none"/><path d="M709.4 386.1L703.1 375.6L709.4 378.1L715.7 375.6Z" fill="#46337E"/>
<path d="M769.1 313.1L769.1 378.6" stroke="#440154" stroke-width="3.5" fill="none"/><path d="M769.1 386.1L762.8 375.6L769.1 378.1L775.4 375.6Z" fill="#440154"/>
<path d="M828.8 313.1L828.8 378.6" stroke="#440154" stroke-width="3.5" fill="none"/><path d="M828.8 386.1L822.5 375.6L828.8 378.1L835.1 375.6Z" fill="#440154"/>
<path d="M82.6 404.4L82.6 467.5" stroke="#35B779" stroke-width="3.5" fill="none"/><path d="M82.6 475.0L76.3 464.5L82.6 467.0L88.9 464.5Z" fill="#35B779"/>
<path d="M201.9 404.4L180.1 471.3" stroke="#2E6E8E" stroke-width="3.5" fill="none"/><path d="M177.8 478.4L175.1 466.5L180.3 470.8L187.0 470.4Z" fill="#2E6E8E"/>
<path d="M201.9 404.4L223.8 471.3" stroke="#482878" stroke-width="3.5" fill="none"/><path d="M226.1 478.4L216.9 470.4L223.6 470.8L228.8 466.5Z" fill="#482878"/>
<path d="M291.5 404.4L291.5 469.8" stroke="#2A788E" stroke-width="3.5" fill="none"/><path d="M291.5 477.3L285.2 466.8L291.5 469.3L297.8 466.8Z" fill="#2A788E"/>
<path d="M351.2 404.4L351.2 470.0" stroke="#440154" stroke-width="3.5" fill="none"/><path d="M351.2 477.5L344.9 467.0L351.2 469.5L357.5 467.0Z" fill="#440154"/>
<path d="M440.8 404.4L440.8 468.8" stroke="#22A884" stroke-width="3.5" fill="none"/><path d="M440.8 476.3L434.4 465.8L440.8 468.3L447.1 465.8Z" fill="#22A884"/>
<path d="M530.3 404.4L530.3 470.0" stroke="#481C6E" stroke-width="3.5" fill="none"/><path d="M530.3 477.5L524.0 467.0L530.3 469.5L536.6 467.0Z" fill="#481C6E"/>
<path d="M590.0 404.4L590.0 470.0" stroke="#3B5C8A" stroke-width="3.5" fill="none"/><path d="M590.0 477.5L583.7 467.0L590.0 469.5L596.3 467.0Z" fill="#3B5C8A"/>
<path d="M649.7 404.4L649.7 470.0" stroke="#23898E" stroke-width="3.5" fill="none"/><path d="M649.7 477.5L643.4 467.0L649.7 469.5L656.0 467.0Z" fill="#23898E"/>
<path d="M709.4 404.4L709.4 470.0" stroke="#46337E" stroke-width="3.5" fill="none"/><path d="M709.4 477.5L703.1 467.0L709.4 469.5L715.7 467.0Z" fill="#46337E"/>
<path d="M769.1 404.4L769.1 470.0" stroke="#440154" stroke-width="3.5" fill="none"/><path d="M769.1 477.5L762.8 467.0L769.1 469.5L775.4 467.0Z" fill="#440154"/>
<path d="M828.8 404.4L828.8 470.0" stroke="#440154" stroke-width="3.5" fill="none"/><path d="M828.8 477.5L822.5 467.0L828.8 469.5L835.1 467.0Z" fill="#440154"/>
<path d="M82.6 495.8L82.6 559.5" stroke="#3BBB75" stroke-width="3.5" fill="none"/><path d="M82.6 567.0L76.3 556.5L82.6 559.0L88.9 556.5Z" fill="#3BBB75"/>
<path d="M172.1 495.8L172.1 561.2" stroke="#2A788E" stroke-width="3.5" fill="none"/><path d="M172.1 568.7L165.8 558.2L172.1 560.7L178.4 558.2Z" fill="#2A788E"/>
<path d="M231.8 495.8L231.8 561.4" stroke="#443983" stroke-width="3.5" fill="none"/><path d="M231.8 568.9L225.5 558.4L231.8 560.9L238.1 558.4Z" fill="#443983"/>
<path d="M291.5 495.8L291.5 561.2" stroke="#21908C" stroke-width="3.5" fill="none"/><path d="M291.5 568.7L285.2 558.2L291.5 560.7L297.8 558.2Z" fill="#21908C"/>
<path d="M351.2 495.8L351.2 561.4" stroke="#440154" stroke-width="3.5" fill="none"/><path d="M351.2 568.9L344.9 558.4L351.2 560.9L357.5 558.4Z" fill="#440154"/>
<path d="M440.8 495.8L418.9 562.6" stroke="#2E6E8E" stroke-width="3.5" fill="none"/><path d="M416.6 569.8L413.9 557.8L419.1 562.2L425.8 561.7Z" fill="#2E6E8E"/>
<path d="M440.8 495.8L462.6 562.6" stroke="#3F548A" stroke-width="3.5" fill="none"/><path d="M464.9 569.8L455.7 561.7L462.4 562.2L467.6 557.8Z" fill="#3F548A"/>
<path d="M530.3 495.8L530.3 561.4" stroke="#482173" stroke-width="3.5" fill="none"/><path d="M530.3 568.9L524.0 558.4L530.3 560.9L536.6 558.4Z" fill="#482173"/>
<path d="M590.0 495.8L590.0 561.4" stroke="#3B5A8A" stroke-width="3.5" fill="none"/><path d="M590.0 568.9L583.7 558.4L590.0 560.9L596.3 558.4Z" fill="#3B5A8A"/>
<path d="M649.7 495.8L649.7 561.4" stroke="#23898E" stroke-width="3.5" fill="none"/><path d="M649.7 568.9L643.4 558.4L649.7 560.9L656.0 558.4Z" fill="#23898E"/>
<path d="M709.4 495.8L709.4 561.4" stroke="#46337E" stroke-width="3.5" fill="none"/><path d="M709.4 568.9L703.1 558.4L709.4 560.9L715.7 558.4Z" fill="#46337E"/>
<path d="M769.1 495.8L769.1 561.4" stroke="#440154" stroke-width="3.5" fill="none"/><path d="M769.1 568.9L762.8 558.4L769.1 560.9L775.4 558.4Z" fill="#440154"/>
<path d="M828.8 495.8L828.8 561.4" stroke="#440154" stroke-width="3.5" fill="none"/><path d="M828.8 568.9L822.5 558.4L828.8 560.9L835.1 558.4Z" fill="#440154"/>
<path d="M82.6 587.2L60.7 654.0" stroke="#33638D" stroke-width="3.5" fill="none"/><path d="M58.4 661.1L55.7 649.2L60.9 653.5L67.6 653.1Z" fill="#33638D"/>
<path d="M82.6 587.2L104.4 654.0" stroke="#3A5E8C" stroke-width="3.5" fill="none"/><path d="M106.7 661.1L97.5 653.1L104.2 653.5L109.4 649.2Z" fill="#3A5E8C"/>
<path d="M172.1 587.2L172.1 652.7" stroke="#2A788E" stroke-width="3.5" fill="none"/><path d="M172.1 660.2L165.8 649.7L172.1 652.2L178.4 649.7Z" fill="#2A788E"/>
<path d="M231.8 587.2L231.8 652.7" stroke="#46337E" stroke-width="3.5" fill="none"/><path d="M231.8 660.2L225.5 649.7L231.8 652.2L238.1 649.7Z" fill="#46337E"/>
<path d="M291.5 587.2L291.5 652.5" stroke="#21918C" stroke-width="3.5" fill="none"/><path d="M291.5 660.0L285.2 649.5L291.5 652.0L297.8 649.5Z" fill="#21918C"/>
<path d="M351.2 587.2L351.2 652.7" stroke="#440154" stroke-width="3.5" fill="none"/><path d="M351.2 660.2L344.9 649.7L351.2 652.2L357.5 649.7Z" fill="#440154"/>
<path d="M410.9 587.2L410.9 652.7" stroke="#33638D" stroke-width="3.5" fill="none"/><path d="M410.9 660.2L404.6 649.7L410.9 652.2L417.2 649.7Z" fill="#33638D"/>
<path d="M470.6 587.2L470.6 652.7" stroke="#3E568A" stroke-width="3.5" fill="none"/><path d="M470.6 660.2L464.3 649.7L470.6 652.2L476.9 649.7Z" fill="#3E568A"/>
<path d="M530.3 587.2L530.3 652.7" stroke="#481A6C" stroke-width="3.5" fill="none"/><path d="M530.3 660.2L524.0 649.7L530.3 652.2L536.6 649.7Z" fill="#481A6C"/>
<path d="M590.0 587.2L590.0 652.7" stroke="#3E568A" stroke-width="3.5" fill="none"/><path d="M590.0 660.2L583.7 649.7L590.0 652.2L596.3 649.7Z" fill="#3E568A"/>
<path d="M649.7 587.2L649.7 652.7" stroke="#21918C" stroke-width="3.5" fill="none"/><path d="M649.7 660.2L643.4 649.7L649.7 652.2L656.0 649.7Z" fill="#21918C"/>
<path d="M709.4 587.2L709.4 652.7" stroke="#46337E" stroke-width="3.5" fill="none"/><path d="M709.4 660.2L703.1 649.7L709.4 652.2L715.7 649.7Z" fill="#46337E"/>
<path d="M769.1 587.2L769.1 652.7" stroke="#440154" stroke-width="3.5" fill="none"/><path d="M769.1 660.2L762.8 649.7L769.1 652.2L775.4 649.7Z" fill="#440154"/>
<path d="M828.8 587.2L828.8 652.7" stroke="#440154" stroke-width="3.5" fill="none"/><path d="M828.8 660.2L822.5 649.7L828.8 652.2L835.1 649.7Z" fill="#440154"/>
<path d="M52.7 678.5L52.7 744.1" stroke="#2F6C8E" stroke-width="3.5" fill="none"/><path d="M52.7 751.6L46.4 741.1L52.7 743.6L59.0 741.1Z" fill="#2F6C8E"/>
<path d="M112.4 678.5L112.4 744.1" stroke="#385E8D" stroke-width="3.5" fill="none"/><path d="M112.4 751.6L106.1 741.1L112.4 743.6L118.7 741.1Z" fill="#385E8D"/>
<path d="M172.1 678.5L172.1 744.1" stroke="#31688E" stroke-width="3.5" fill="none"/><path d="M172.1 751.6L165.8 741.1L172.1 743.6L178.4 741.1Z" fill="#31688E"/>
<path d="M231.8 678.5L231.8 744.1" stroke="#46337E" stroke-width="3.5" fill="none"/><path d="M231.8 751.6L225.5 741.1L231.8 743.6L238.1 741.1Z" fill="#46337E"/>
<path d="M291.5 678.5L291.5 743.7" stroke="#21918C" stroke-width="3.5" fill="none"/><path d="M291.5 751.2L285.2 740.7L291.5 743.2L297.8 740.7Z" fill="#21918C"/>
<path d="M351.2 678.5L351.2 744.1" stroke="#440154" stroke-width="3.5" fill="none"/><path d="M351.2 751.6L344.9 741.1L351.2 743.6L357.5 741.1Z" fill="#440154"/>
<path d="M410.9 678.5L410.9 744.1" stroke="#33698F" stroke-width="3.5" fill="none"/><path d="M410.9 751.6L404.6 741.1L410.9 743.6L417.2 741.1Z" fill="#33698F"/>
<path d="M470.6 678.5L470.6 744.1" stroke="#3E568A" stroke-width="3.5" fill="none"/><path d="M470.6 751.6L464.3 741.1L470.6 743.6L476.9 741.1Z" fill="#3E568A"/>
<path d="M530.3 678.5L530.3 744.1" stroke="#481A6C" stroke-width="3.5" fill="none"/><path d="M530.3 751.6L524.0 741.1L530.3 743.6L536.6 741.1Z" fill="#481A6C"/>
<path d="M590.0 678.5L590.0 744.1" stroke="#3E568A" stroke-width="3.5" fill="none"/><path d="M590.0 751.6L583.7 741.1L590.0 743.6L596.3 741.1Z" fill="#3E568A"/>
<path d="M649.7 678.5L649.7 744.1" stroke="#21918C" stroke-width="3.5" fill="none"/><path d="M649.7 751.6L643.4 741.1L649.7 743.6L656.0 741.1Z" fill="#21918C"/>
<path d="M709.4 678.5L709.4 744.1" stroke="#46337E" stroke-width="3.5" fill="none"/><path d="M709.4 751.6L703.1 741.1L709.4 743.6L715.7 741.1Z" fill="#46337E"/>
<path d="M769.1 678.5L769.1 744.1" stroke="#440154" stroke-width="3.5" fill="none"/><path d="M769.1 751.6L762.8 741.1L769.1 743.6L775.4 741.1Z" fill="#440154"/>
<path d="M828.8 678.5L828.8 744.1" stroke="#440154" stroke-width="3.5" fill="none"/><path d="M828.8 751.6L822.5 741.1L828.8 743.6L835.1 741.1Z" fill="#440154"/>
<path d="M52.7 769.9L52.7 835.4" stroke="#2F6C8E" stroke-width="3.5" fill="none"/><path d="M52.7 842.9L46.4 832.4L52.7 834.9L59.0 832.4Z" fill="#2F6C8E"/>
<path d="M112.4 769.9L112.4 835.4" stroke="#385E8D" stroke-width="3.5" fill="none"/><path d="M112.4 842.9L106.1 832.4L112.4 834.9L118.7 832.4Z" fill="#385E8D"/>
<path d="M172.1 769.9L172.1 835.4" stroke="#31688E" stroke-width="3.5" fill="none"/><path d="M172.1 842.9L165.8 832.4L172.1 834.9L178.4 832.4Z" fill="#31688E"/>
<path d="M231.8 769.9L231.8 835.4" stroke="#46337E" stroke-width="3.5" fill="none"/><path d="M231.8 842.9L225.5 832.4L231.8 834.9L238.1 832.4Z" fill="#46337E"/>
<path d="M291.5 769.9L291.5 835.0" stroke="#21918C" stroke-width="3.5" fill="none"/><path d="M291.5 842.5L285.2 832.0L291.5 834.5L297.8 832.0Z" fill="#21918C"/>
<path d="M351.2 769.9L351.2 835.4" stroke="#440154" stroke-width="3.5" fill="none"/><path d="M351.2 842.9L344.9 832.4L351.2 834.9L357.5 832.4Z" fill="#440154"/>
<path d="M410.9 769.9L410.9 835.4" stroke="#2A788E" stroke-width="3.5" fill="none"/><path d="M410.9 842.9L404.6 832.4L410.9 834.9L417.2 832.4Z" fill="#2A788E"/>
<path d="M470.6 769.9L470.6 835.4" stroke="#3E568A" stroke-width="3.5" fill="none"/><path d="M470.6 842.9L464.3 832.4L470.6 834.9L476.9 832.4Z" fill="#3E568A"/>
<path d="M530.3 769.9L530.3 835.4" stroke="#481A6C" stroke-width="3.5" fill="none"/><path d="M530.3 842.9L524.0 832.4L530.3 834.9L536.6 832.4Z" fill="#481A6C"/>
<path d="M590.0 769.9L590.0 835.4" stroke="#3E568A" stroke-width="3.5" fill="none"/><path d="M590.0 842.9L583.7 832.4L590.0 834.9L596.3 832.4Z" fill="#3E568A"/>
<path d="M649.7 769.9L649.7 835.4" stroke="#21918C" stroke-width="3.5" fill="none"/><path d="M649.7 842.9L643.4 832.4L649.7 834.9L656.0 832.4Z" fill="#21918C"/>
<path d="M709.4 769.9L709.4 835.4" stroke="#46337E" stroke-width="3.5" fill="none"/><path d="M709.4 842.9L703.1 832.4L709.4 834.9L715.7 832.4Z" fill="#46337E"/>
<path d="M769.1 769.9L769.1 835.4" stroke="#440154" stroke-width="3.5" fill="none"/><path d="M769.1 842.9L762.8 832.4L769.1 834.9L775.4 832.4Z" fill="#440154"/>
<path d="M828.8 769.9L828.8 835.4" stroke="#440154" stroke-width="3.5" fill="none"/><path d="M828.8 842.9L822.5 832.4L828.8 834.9L835.1 832.4Z" fill="#440154"/>
<g font-family="Liberation Sans, Arial, sans-serif" font-size="10" fill="#D9E0E8" text-anchor="middle">
<circle cx="291.5" cy="39.0" r="22.7" fill="#132B43"/>
<circle cx="470.6" cy="39.0" r="17.5" fill="#132B43"/>
<circle cx="590.0" cy="39.0" r="17.3" fill="#132B43"/>
<circle cx="649.7" cy="39.0" r="15.8" fill="#132B43"/>
<circle cx="709.4" cy="39.0" r="12.2" fill="#1B3A5A"/>
<circle cx="769.1" cy="39.0" r="9.5" fill="#3F84C0"/>
<circle cx="828.8" cy="39.0" r="9" fill="#132B43"/>
<circle cx="142.2" cy="130.4" r="19.5" fill="#132B43"/>
<circle cx="291.5" cy="130.4" r="15.8" fill="#132B43"/>
<circle cx="351.2" cy="130.4" r="6.7" fill="#244D73"/>
<circle cx="470.6" cy="130.4" r="17.7" fill="#132B43"/>
<circle cx="590.0" cy="130.4" r="17.3" fill="#132B43"/>
<circle cx="649.7" cy="130.4" r="15.8" fill="#132B43"/>
<circle cx="709.4" cy="130.4" r="12.2" fill="#1E4064"/>
<circle cx="769.1" cy="130.4" r="9.5" fill="#132B43"/>
<circle cx="828.8" cy="130.4" r="8.6" fill="#4A9AD8"/>
<circle cx="82.6" cy="221.7" r="18.3" fill="#132B43"/>
<circle cx="201.9" cy="221.7" r="17" fill="#132B43"/>
<circle cx="291.5" cy="221.7" r="14.4" fill="#132B43"/>
<circle cx="351.2" cy="221.7" r="6.2" fill="#56B1F7"/>
<circle cx="440.8" cy="221.7" r="17" fill="#132B43"/>
<circle cx="530.3" cy="221.7" r="8.8" fill="#132B43"/>
<circle cx="590.0" cy="221.7" r="14.2" fill="#132B43"/>
<circle cx="649.7" cy="221.7" r="15.3" fill="#132B43"/>
<circle cx="709.4" cy="221.7" r="12" fill="#1B3552"/>
<circle cx="769.1" cy="221.7" r="9.5" fill="#3E86C4"/>
<circle cx="828.8" cy="221.7" r="8.6" fill="#4A98D6"/>
<circle cx="82.6" cy="313.1" r="18.3" fill="#132B43"/>
<circle cx="201.9" cy="313.1" r="16.7" fill="#132B43"/>
<circle cx="291.5" cy="313.1" r="16" fill="#132B43"/>
<circle cx="351.2" cy="313.1" r="6.5" fill="#264D73"/>
<circle cx="440.8" cy="313.1" r="17" fill="#132B43"/>
<circle cx="530.3" cy="313.1" r="9" fill="#1A3553"/>
<circle cx="590.0" cy="313.1" r="14.2" fill="#132B43"/>
<circle cx="649.7" cy="313.1" r="15.8" fill="#132B43"/>
<circle cx="709.4" cy="313.1" r="12" fill="#1F4467"/>
<circle cx="769.1" cy="313.1" r="9.5" fill="#2F6699"/>
<circle cx="828.8" cy="313.1" r="8.6" fill="#234C72"/>
<circle cx="82.6" cy="404.4" r="17.5" fill="#132B43"/>
<circle cx="201.9" cy="404.4" r="17" fill="#132B43"/>
<circle cx="291.5" cy="404.4" r="16" fill="#132B43"/>
<circle cx="351.2" cy="404.4" r="6.5" fill="#1E3D5C"/>
<circle cx="440.8" cy="404.4" r="17" fill="#132B43"/>
<circle cx="530.3" cy="404.4" r="9" fill="#132B43"/>
<circle cx="590.0" cy="404.4" r="14.2" fill="#132B43"/>
<circle cx="649.7" cy="404.4" r="15.8" fill="#132B43"/>
<circle cx="709.4" cy="404.4" r="12" fill="#3E7FBA"/>
<circle cx="769.1" cy="404.4" r="9.5" fill="#17324E"/>
<circle cx="828.8" cy="404.4" r="8.6" fill="#24527A"/>
<circle cx="82.6" cy="495.8" r="18.3" fill="#132B43"/>
<circle cx="172.1" cy="495.8" r="15.5" fill="#132B43"/>
<circle cx="231.8" cy="495.8" r="11.3" fill="#132B43"/>
<circle cx="291.5" cy="495.8" r="16" fill="#132B43"/>
<circle cx="351.2" cy="495.8" r="6.5" fill="#1F3F5E"/>
<circle cx="440.8" cy="495.8" r="17" fill="#132B43"/>
<circle cx="530.3" cy="495.8" r="9" fill="#132B43"/>
<circle cx="590.0" cy="495.8" r="13.8" fill="#132B43"/>
<circle cx="649.7" cy="495.8" r="15.8" fill="#132B43"/>
<circle cx="709.4" cy="495.8" r="12" fill="#3A76AE"/>
<circle cx="769.1" cy="495.8" r="9.5" fill="#1A3350"/>
<circle cx="828.8" cy="495.8" r="9" fill="#1E3D5E"/>
<circle cx="82.6" cy="587.2" r="17.7" fill="#132B43"/>
<circle cx="172.1" cy="587.2" r="16" fill="#132B43"/>
<circle cx="231.8" cy="587.2" r="11.3" fill="#132B43"/>
<circle cx="291.5" cy="587.2" r="16" fill="#132B43"/>
<circle cx="351.2" cy="587.2" r="6.5" fill="#3B6F9C"/>
<circle cx="410.9" cy="587.2" r="14.5" fill="#132B43"/>
<circle cx="470.6" cy="587.2" r="13.8" fill="#132B43"/>
<circle cx="530.3" cy="587.2" r="9" fill="#132B43"/>
<circle cx="590.0" cy="587.2" r="13.8" fill="#132B43"/>
<circle cx="649.7" cy="587.2" r="15.8" fill="#132B43"/>
<circle cx="709.4" cy="587.2" r="12" fill="#4A8FD0"/>
<circle cx="769.1" cy="587.2" r="9.5" fill="#132B43"/>
<circle cx="828.8" cy="587.2" r="9" fill="#132B43"/>
<circle cx="52.7" cy="678.5" r="15" fill="#132B43"/>
<circle cx="112.4" cy="678.5" r="14.3" fill="#132B43"/>
<circle cx="172.1" cy="678.5" r="15.5" fill="#132B43"/>
<circle cx="231.8" cy="678.5" r="11.5" fill="#132B43"/>
<circle cx="291.5" cy="678.5" r="16" fill="#132B43"/>
<circle cx="351.2" cy="678.5" r="6.8" fill="#2E5F8A"/>
<circle cx="410.9" cy="678.5" r="14.5" fill="#132B43"/>
<circle cx="470.6" cy="678.5" r="13.8" fill="#132B43"/>
<circle cx="530.3" cy="678.5" r="9" fill="#132B43"/>
<circle cx="590.0" cy="678.5" r="13.8" fill="#132B43"/>
<circle cx="649.7" cy="678.5" r="15.8" fill="#132B43"/>
<circle cx="709.4" cy="678.5" r="12" fill="#3C7DBA"/>
<circle cx="769.1" cy="678.5" r="9.5" fill="#132B43"/>
<circle cx="828.8" cy="678.5" r="9" fill="#1B3654"/>
<circle cx="52.7" cy="769.9" r="15" fill="#132B43"/>
<circle cx="112.4" cy="769.9" r="14.7" fill="#132B43"/>
<circle cx="172.1" cy="769.9" r="15.5" fill="#132B43"/>
<circle cx="231.8" cy="769.9" r="11.5" fill="#132B43"/>
<circle cx="291.5" cy="769.9" r="16.2" fill="#132B43"/>
<circle cx="351.2" cy="769.9" r="6.8" fill="#2A5A84"/>
<circle cx="410.9" cy="769.9" r="14.5" fill="#132B43"/>
<circle cx="470.6" cy="769.9" r="13.2" fill="#132B43"/>
<circle cx="530.3" cy="769.9" r="9" fill="#132B43"/>
<circle cx="590.0" cy="769.9" r="13.8" fill="#132B43"/>
<circle cx="649.7" cy="769.9" r="15.3" fill="#132B43"/>
<circle cx="709.4" cy="769.9" r="12" fill="#4386C4"/>
<circle cx="769.1" cy="769.9" r="9.5" fill="#132B43"/>
<circle cx="828.8" cy="769.9" r="9" fill="#132B43"/>
<circle cx="52.7" cy="861.2" r="15.8" fill="#132B43"/>
<circle cx="112.4" cy="861.2" r="14.3" fill="#132B43"/>
<circle cx="172.1" cy="861.2" r="15.5" fill="#132B43"/>
<circle cx="231.8" cy="861.2" r="11.5" fill="#132B43"/>
<circle cx="291.5" cy="861.2" r="16.2" fill="#132B43"/>
<circle cx="351.2" cy="861.2" r="6.8" fill="#1B3653"/>
<circle cx="410.9" cy="861.2" r="14.5" fill="#132B43"/>
<circle cx="470.6" cy="861.2" r="13.8" fill="#132B43"/>
<circle cx="530.3" cy="861.2" r="9" fill="#132B43"/>
<circle cx="590.0" cy="861.2" r="13.8" fill="#132B43"/>
<circle cx="649.7" cy="861.2" r="15.3" fill="#132B43"/>
<circle cx="709.4" cy="861.2" r="12.2" fill="#4A90CF"/>
<circle cx="769.1" cy="861.2" r="9.5" fill="#132B43"/>
<circle cx="828.8" cy="861.2" r="9" fill="#132B43"/>
<text x="291.5" y="43.1" font-size="11.5">0</text>
<text x="470.6" y="43.1" font-size="11.5">1</text>
<text x="590.0" y="43.1" font-size="11.5">2</text>
<text x="649.7" y="43.1" font-size="11.5">3</text>
<text x="709.4" y="43.1" font-size="11.5">4</text>
<text x="769.1" y="43.1" font-size="11.5">5</text>
<text x="828.8" y="43.1" font-size="11.5">6</text>
<text x="142.2" y="134.5" font-size="11.5">0</text>
<text x="291.5" y="134.5" font-size="11.5">3</text>
<text x="351.2" y="134.1" font-size="10.5">8</text>
<text x="470.6" y="134.5" font-size="11.5">1</text>
<text x="590.0" y="134.5" font-size="11.5">2</text>
<text x="649.7" y="134.5" font-size="11.5">4</text>
<text x="709.4" y="134.5" font-size="11.5">5</text>
<text x="769.1" y="134.5" font-size="11.5">6</text>
<text x="828.8" y="134.5" font-size="11.5">7</text>
<text x="82.6" y="225.9" font-size="11.5">0</text>
<text x="201.9" y="225.9" font-size="11.5">2</text>
<text x="291.5" y="225.9" font-size="11.5">4</text>
<text x="351.2" y="225.5" font-size="10.5">10</text>
<text x="440.8" y="225.9" font-size="11.5">1</text>
<text x="530.3" y="225.9" font-size="11.5">8</text>
<text x="590.0" y="225.9" font-size="11.5">5</text>
<text x="649.7" y="225.9" font-size="11.5">3</text>
<text x="709.4" y="225.9" font-size="11.5">6</text>
<text x="769.1" y="225.9" font-size="11.5">7</text>
<text x="828.8" y="225.9" font-size="11.5">9</text>
<text x="82.6" y="317.2" font-size="11.5">0</text>
<text x="201.9" y="317.2" font-size="11.5">2</text>
<text x="291.5" y="317.2" font-size="11.5">3</text>
<text x="351.2" y="316.9" font-size="10.5">10</text>
<text x="440.8" y="317.2" font-size="11.5">1</text>
<text x="530.3" y="317.2" font-size="11.5">8</text>
<text x="590.0" y="317.2" font-size="11.5">5</text>
<text x="649.7" y="317.2" font-size="11.5">4</text>
<text x="709.4" y="317.2" font-size="11.5">6</text>
<text x="769.1" y="317.2" font-size="11.5">7</text>
<text x="828.8" y="317.2" font-size="11.5">9</text>
<text x="82.6" y="408.6" font-size="11.5">0</text>
<text x="201.9" y="408.6" font-size="11.5">1</text>
<text x="291.5" y="408.6" font-size="11.5">3</text>
<text x="351.2" y="408.2" font-size="10.5">10</text>
<text x="440.8" y="408.6" font-size="11.5">2</text>
<text x="530.3" y="408.6" font-size="11.5">8</text>
<text x="590.0" y="408.6" font-size="11.5">5</text>
<text x="649.7" y="408.6" font-size="11.5">4</text>
<text x="709.4" y="408.6" font-size="11.5">6</text>
<text x="769.1" y="408.6" font-size="11.5">7</text>
<text x="828.8" y="408.6" font-size="11.5">9</text>
<text x="82.6" y="499.9" font-size="11.5">0</text>
<text x="172.1" y="499.9" font-size="11.5">4</text>
<text x="231.8" y="499.9" font-size="11.5">7</text>
<text x="291.5" y="499.9" font-size="11.5">2</text>
<text x="351.2" y="499.6" font-size="10.5">11</text>
<text x="440.8" y="499.9" font-size="11.5">1</text>
<text x="530.3" y="499.9" font-size="11.5">9</text>
<text x="590.0" y="499.9" font-size="11.5">5</text>
<text x="649.7" y="499.9" font-size="11.5">3</text>
<text x="709.4" y="499.9" font-size="11.5">6</text>
<text x="769.1" y="499.9" font-size="11.5">8</text>
<text x="828.8" y="499.9" font-size="11.5">10</text>
<text x="82.6" y="591.3" font-size="11.5">0</text>
<text x="172.1" y="591.3" font-size="11.5">1</text>
<text x="231.8" y="591.3" font-size="11.5">8</text>
<text x="291.5" y="591.3" font-size="11.5">2</text>
<text x="351.2" y="590.9" font-size="10.5">12</text>
<text x="410.9" y="591.3" font-size="11.5">4</text>
<text x="470.6" y="591.3" font-size="11.5">5</text>
<text x="530.3" y="591.3" font-size="11.5">9</text>
<text x="590.0" y="591.3" font-size="11.5">6</text>
<text x="649.7" y="591.3" font-size="11.5">3</text>
<text x="709.4" y="591.3" font-size="11.5">7</text>
<text x="769.1" y="591.3" font-size="11.5">10</text>
<text x="828.8" y="591.3" font-size="11.5">11</text>
<text x="52.7" y="682.7" font-size="11.5">2</text>
<text x="112.4" y="682.7" font-size="11.5">4</text>
<text x="172.1" y="682.7" font-size="11.5">1</text>
<text x="231.8" y="682.7" font-size="11.5">9</text>
<text x="291.5" y="682.7" font-size="11.5">0</text>
<text x="351.2" y="682.3" font-size="10.5">13</text>
<text x="410.9" y="682.7" font-size="11.5">5</text>
<text x="470.6" y="682.7" font-size="11.5">6</text>
<text x="530.3" y="682.7" font-size="11.5">11</text>
<text x="590.0" y="682.7" font-size="11.5">7</text>
<text x="649.7" y="682.7" font-size="11.5">3</text>
<text x="709.4" y="682.7" font-size="11.5">8</text>
<text x="769.1" y="682.7" font-size="11.5">10</text>
<text x="828.8" y="682.7" font-size="11.5">12</text>
<text x="52.7" y="774.0" font-size="11.5">1</text>
<text x="112.4" y="774.0" font-size="11.5">5</text>
<text x="172.1" y="774.0" font-size="11.5">3</text>
<text x="231.8" y="774.0" font-size="11.5">9</text>
<text x="291.5" y="774.0" font-size="11.5">0</text>
<text x="351.2" y="773.7" font-size="10.5">13</text>
<text x="410.9" y="774.0" font-size="11.5">4</text>
<text x="470.6" y="774.0" font-size="11.5">7</text>
<text x="530.3" y="774.0" font-size="11.5">11</text>
<text x="590.0" y="774.0" font-size="11.5">6</text>
<text x="649.7" y="774.0" font-size="11.5">2</text>
<text x="709.4" y="774.0" font-size="11.5">8</text>
<text x="769.1" y="774.0" font-size="11.5">10</text>
<text x="828.8" y="774.0" font-size="11.5">12</text>
<text x="52.7" y="865.4" font-size="11.5">1</text>
<text x="112.4" y="865.4" font-size="11.5">5</text>
<text x="172.1" y="865.4" font-size="11.5">3</text>
<text x="231.8" y="865.4" font-size="11.5">9</text>
<text x="291.5" y="865.4" font-size="11.5">0</text>
<text x="351.2" y="865.0" font-size="10.5">13</text>
<text x="410.9" y="865.4" font-size="11.5">4</text>
<text x="470.6" y="865.4" font-size="11.5">7</text>
<text x="530.3" y="865.4" font-size="11.5">10</text>
<text x="590.0" y="865.4" font-size="11.5">6</text>
<text x="649.7" y="865.4" font-size="11.5">2</text>
<text x="709.4" y="865.4" font-size="11.5">8</text>
<text x="769.1" y="865.4" font-size="11.5">11</text>
<text x="828.8" y="865.4" font-size="11.5">12</text>
</g>
<text x="889" y="121" font-family="Liberation Sans, Arial, sans-serif" font-size="14" fill="#222">sc3_stability</text>
<defs><linearGradient id="gsc3" x1="0" y1="0" x2="0" y2="1"><stop offset="0" stop-color="#56B1F7"/><stop offset="1" stop-color="#132B43"/></linearGradient><linearGradient id="gvir" x1="0" y1="1" x2="0" y2="0"><stop offset="0" stop-color="#440154"/><stop offset="0.1" stop-color="#482475"/><stop offset="0.2" stop-color="#414487"/><stop offset="0.3" stop-color="#355F8D"/><stop offset="0.4" stop-color="#2A788E"/><stop offset="0.5" stop-color="#21918C"/><stop offset="0.6" stop-color="#22A884"/><stop offset="0.7" stop-color="#44BF70"/><stop offset="0.8" stop-color="#7AD151"/><stop offset="0.9" stop-color="#BDDF26"/><stop offset="1" stop-color="#FDE725"/></linearGradient></defs>
<rect x="890" y="131" width="24" height="117" fill="url(#gsc3)"/>
<path d="M890 152.3h5M909 152.3h5" stroke="#fff" stroke-width="1" opacity="0.8"/>
<path d="M890 185.5h5M909 185.5h5" stroke="#fff" stroke-width="1" opacity="0.8"/>
<path d="M890 217.5h5M909 217.5h5" stroke="#fff" stroke-width="1" opacity="0.8"/>
<text x="922" y="156.60000000000002" font-family="Liberation Sans, Arial, sans-serif" font-size="12" fill="#333">0.6</text>
<text x="922" y="189.8" font-family="Liberation Sans, Arial, sans-serif" font-size="12" fill="#333">0.4</text>
<text x="922" y="221.8" font-family="Liberation Sans, Arial, sans-serif" font-size="12" fill="#333">0.2</text>
<text x="889" y="293" font-family="Liberation Sans, Arial, sans-serif" font-size="14" fill="#222">in_prop</text>
<path d="M893 314h18M905 309l6 5l-6 5" stroke="#000" stroke-opacity="0.08" stroke-width="1.6" fill="none"/>
<text x="922" y="318.3" font-family="Liberation Sans, Arial, sans-serif" font-size="12" fill="#333">0.00</text>
<path d="M893 337.5h18M905 332.5l6 5l-6 5" stroke="#000" stroke-opacity="0.28" stroke-width="1.6" fill="none"/>
<text x="922" y="341.8" font-family="Liberation Sans, Arial, sans-serif" font-size="12" fill="#333">0.25</text>
<path d="M893 361h18M905 356l6 5l-6 5" stroke="#000" stroke-opacity="0.5" stroke-width="1.6" fill="none"/>
<text x="922" y="365.3" font-family="Liberation Sans, Arial, sans-serif" font-size="12" fill="#333">0.50</text>
<path d="M893 384.3h18M905 379.3l6 5l-6 5" stroke="#000" stroke-opacity="0.78" stroke-width="1.6" fill="none"/>
<text x="922" y="388.6" font-family="Liberation Sans, Arial, sans-serif" font-size="12" fill="#333">0.75</text>
<path d="M893 408h18M905 403l6 5l-6 5" stroke="#000" stroke-opacity="1.0" stroke-width="1.6" fill="none"/>
<text x="922" y="412.3" font-family="Liberation Sans, Arial, sans-serif" font-size="12" fill="#333">1.00</text>
<text x="889" y="464" font-family="Liberation Sans, Arial, sans-serif" font-size="14" fill="#222">size</text>
<circle cx="919.5" cy="493" r="16" fill="#000"/>
<text x="956" y="497.3" font-family="Liberation Sans, Arial, sans-serif" font-size="12" fill="#333">5000</text>
<circle cx="919.5" cy="538" r="20" fill="#000"/>
<text x="956" y="542.3" font-family="Liberation Sans, Arial, sans-serif" font-size="12" fill="#333">10000</text>
<circle cx="919.5" cy="592" r="22.8" fill="#000"/>
<text x="956" y="596.3" font-family="Liberation Sans, Arial, sans-serif" font-size="12" fill="#333">15000</text>
<text x="889" y="665" font-family="Liberation Sans, Arial, sans-serif" font-size="14" fill="#222">count</text>
<rect x="890" y="674" width="24" height="118" fill="url(#gvir)"/>
<path d="M890 677.7h4M910 677.7h4" stroke="#333" stroke-width="1.5"/>
<text x="922" y="682.0" font-family="Liberation Sans, Arial, sans-serif" font-size="12" fill="#333">10000</text>
<path d="M890 706.7h4M910 706.7h4" stroke="#333" stroke-width="1.5"/>
<text x="922" y="711.0" font-family="Liberation Sans, Arial, sans-serif" font-size="12" fill="#333">7500</text>
<path d="M890 736.3h4M910 736.3h4" stroke="#333" stroke-width="1.5"/>
<text x="922" y="740.5999999999999" font-family="Liberation Sans, Arial, sans-serif" font-size="12" fill="#333">5000</text>
<path d="M890 765.7h4M910 765.7h4" stroke="#333" stroke-width="1.5"/>
<text x="922" y="770.0" font-family="Liberation Sans, Arial, sans-serif" font-size="12" fill="#333">2500</text>
<text x="606" y="1021" font-family="Liberation Sans, Arial, sans-serif" font-size="15" font-weight="bold" fill="#000" text-anchor="middle">Optimal resolution</text>
<text x="606" y="1041.5" font-family="Liberation Sans, Arial, sans-serif" font-size="13" font-weight="bold" fill="#000" text-anchor="middle">Mean sc3 Stability Method</text>
<path d="M65.2 1051.8V1465.5H1117" stroke="#4a4a4a" stroke-width="1.8" fill="none"/>
<path d="M61.5 1448.5h3" stroke="#4a4a4a" stroke-width="1.2"/>
<text transform="translate(61 1451.5) rotate(-45)" font-family="Liberation Sans, Arial, sans-serif" font-size="12" fill="#555" text-anchor="end">0.00</text>
<path d="M61.5 1350.7h3" stroke="#4a4a4a" stroke-width="1.2"/>
<text transform="translate(61 1353.7) rotate(-45)" font-family="Liberation Sans, Arial, sans-serif" font-size="12" fill="#555" text-anchor="end">0.05</text>
<path d="M61.5 1252.9h3" stroke="#4a4a4a" stroke-width="1.2"/>
<text transform="translate(61 1255.9) rotate(-45)" font-family="Liberation Sans, Arial, sans-serif" font-size="12" fill="#555" text-anchor="end">0.10</text>
<path d="M61.5 1155.1h3" stroke="#4a4a4a" stroke-width="1.2"/>
<text transform="translate(61 1158.1) rotate(-45)" font-family="Liberation Sans, Arial, sans-serif" font-size="12" fill="#555" text-anchor="end">0.15</text>
<path d="M61.5 1057.3h3" stroke="#4a4a4a" stroke-width="1.2"/>
<text transform="translate(61 1060.3) rotate(-45)" font-family="Liberation Sans, Arial, sans-serif" font-size="12" fill="#555" text-anchor="end">0.20</text>
<text transform="translate(25 1258) rotate(-90)" font-family="Liberation Sans, Arial, sans-serif" font-size="13" fill="#333" text-anchor="middle">mean.stability</text>
<path d="M128.3 1465.5v3.5" stroke="#4a4a4a" stroke-width="1.2"/>
<text transform="translate(133.3 1476) rotate(-45)" font-family="Liberation Sans, Arial, sans-serif" font-size="13" fill="#555" text-anchor="end">RNA_snn_res.0.5</text>
<path d="M234.6 1465.5v3.5" stroke="#4a4a4a" stroke-width="1.2"/>
<text transform="translate(239.6 1476) rotate(-45)" font-family="Liberation Sans, Arial, sans-serif" font-size="13" fill="#555" text-anchor="end">RNA_snn_res.0.6</text>
<path d="M340.8 1465.5v3.5" stroke="#4a4a4a" stroke-width="1.2"/>
<text transform="translate(345.8 1476) rotate(-45)" font-family="Liberation Sans, Arial, sans-serif" font-size="13" fill="#555" text-anchor="end">RNA_snn_res.0.7</text>
<path d="M447.1 1465.5v3.5" stroke="#4a4a4a" stroke-width="1.2"/>
<text transform="translate(452.1 1476) rotate(-45)" font-family="Liberation Sans, Arial, sans-serif" font-size="13" fill="#555" text-anchor="end">RNA_snn_res.0.8</text>
<path d="M553.3 1465.5v3.5" stroke="#4a4a4a" stroke-width="1.2"/>
<text transform="translate(558.3 1476) rotate(-45)" font-family="Liberation Sans, Arial, sans-serif" font-size="13" fill="#555" text-anchor="end">RNA_snn_res.0.9</text>
<path d="M659.6 1465.5v3.5" stroke="#4a4a4a" stroke-width="1.2"/>
<text transform="translate(664.6 1476) rotate(-45)" font-family="Liberation Sans, Arial, sans-serif" font-size="13" fill="#555" text-anchor="end">RNA_snn_res.1</text>
<path d="M765.9 1465.5v3.5" stroke="#4a4a4a" stroke-width="1.2"/>
<text transform="translate(770.9 1476) rotate(-45)" font-family="Liberation Sans, Arial, sans-serif" font-size="13" fill="#555" text-anchor="end">RNA_snn_res.1.1</text>
<path d="M872.1 1465.5v3.5" stroke="#4a4a4a" stroke-width="1.2"/>
<text transform="translate(877.1 1476) rotate(-45)" font-family="Liberation Sans, Arial, sans-serif" font-size="13" fill="#555" text-anchor="end">RNA_snn_res.1.2</text>
<path d="M978.4 1465.5v3.5" stroke="#4a4a4a" stroke-width="1.2"/>
<text transform="translate(983.4 1476) rotate(-45)" font-family="Liberation Sans, Arial, sans-serif" font-size="13" fill="#555" text-anchor="end">RNA_snn_res.1.3</text>
<path d="M1084.6 1465.5v3.5" stroke="#4a4a4a" stroke-width="1.2"/>
<text transform="translate(1089.6 1476) rotate(-45)" font-family="Liberation Sans, Arial, sans-serif" font-size="13" fill="#555" text-anchor="end">RNA_snn_res.1.4</text>
<path d="M340.8 1052V1465" stroke="#E9BC55" stroke-width="1.6" stroke-dasharray="4.5 4"/>
<polyline points="128.3,1200.9 234.6,1172.9 340.8,1072.2 447.1,1242.9 553.3,1242.1 659.6,1309.4 765.9,1270.4 872.1,1311.6 978.4,1329.4 1084.6,1325.8" fill="none" stroke="#6A8799" stroke-width="1.5"/>
<circle cx="128.3" cy="1200.9" r="2.3" fill="#2C4A55"/>
<circle cx="234.6" cy="1172.9" r="2.3" fill="#2C4A55"/>
<circle cx="340.8" cy="1072.2" r="2.3" fill="#2C4A55"/>
<circle cx="447.1" cy="1242.9" r="2.3" fill="#2C4A55"/>
<circle cx="553.3" cy="1242.1" r="2.3" fill="#2C4A55"/>
<circle cx="659.6" cy="1309.4" r="2.3" fill="#2C4A55"/>
<circle cx="765.9" cy="1270.4" r="2.3" fill="#2C4A55"/>
<circle cx="872.1" cy="1311.6" r="2.3" fill="#2C4A55"/>
<circle cx="978.4" cy="1329.4" r="2.3" fill="#2C4A55"/>
<circle cx="1084.6" cy="1325.8" r="2.3" fill="#2C4A55"/>
<path d="M1416.0 1794.0L1416.00 1550.00A244.0 244.0 0 0 1 1501.45 1565.45Z" fill="#F564E3"/>
<path d="M1416.0 1794.0L1501.45 1565.45A244.0 244.0 0 0 1 1620.17 1660.39Z" fill="#619CFF"/>
<path d="M1416.0 1794.0L1620.17 1660.39A244.0 244.0 0 0 1 1658.38 1822.04Z" fill="#00BFC4"/>
<path d="M1416.0 1794.0L1658.38 1822.04A244.0 244.0 0 0 1 1505.43 2021.02Z" fill="#00BA38"/>
<path d="M1416.0 1794.0L1505.43 2021.02A244.0 244.0 0 0 1 1172.75 1774.86Z" fill="#B79F00"/>
<path d="M1416.0 1794.0L1172.75 1774.86A244.0 244.0 0 0 1 1416.00 1550.00Z" fill="#F8766D"/>
<text x="1438" y="1683.5" font-family="Liberation Sans, Arial, sans-serif" font-size="23.5" fill="#1a1a1a" text-anchor="middle">6%</text>
<text x="1492.6" y="1708.5" font-family="Liberation Sans, Arial, sans-serif" font-size="23.5" fill="#1a1a1a" text-anchor="middle">10%</text>
<text x="1535" y="1774.5" font-family="Liberation Sans, Arial, sans-serif" font-size="23.5" fill="#1a1a1a" text-anchor="middle">11%</text>
<text x="1514" y="1877.5" font-family="Liberation Sans, Arial, sans-serif" font-size="23.5" fill="#1a1a1a" text-anchor="middle">17%</text>
<text x="1343" y="1901.5" font-family="Liberation Sans, Arial, sans-serif" font-size="23.5" fill="#1a1a1a" text-anchor="middle">32%</text>
<text x="1333" y="1713.5" font-family="Liberation Sans, Arial, sans-serif" font-size="23.5" fill="#1a1a1a" text-anchor="middle">24%</text>
<circle cx="1691.8" cy="1529" r="8.5" fill="#00BA38"/>
<text x="1724" y="1538.5" font-family="Liberation Sans, Arial, sans-serif" font-size="26.5" fill="#111">NK1A</text>
<circle cx="1691.8" cy="1563.5" r="8.5" fill="#00BFC4"/>
<text x="1724" y="1573.0" font-family="Liberation Sans, Arial, sans-serif" font-size="26.5" fill="#111">NK1B</text>
<circle cx="1691.8" cy="1597" r="8.5" fill="#F8766D"/>
<text x="1724" y="1606.5" font-family="Liberation Sans, Arial, sans-serif" font-size="26.5" fill="#111">NK1C</text>
<circle cx="1691.8" cy="1631" r="8.5" fill="#619CFF"/>
<text x="1724" y="1640.5" font-family="Liberation Sans, Arial, sans-serif" font-size="26.5" fill="#111">NKint</text>
<circle cx="1691.8" cy="1665.5" r="8.5" fill="#F564E3"/>
<text x="1724" y="1675.0" font-family="Liberation Sans, Arial, sans-serif" font-size="26.5" fill="#111">NK2</text>
<circle cx="1691.8" cy="1699" r="8.5" fill="#B79F00"/>
<text x="1724" y="1708.5" font-family="Liberation Sans, Arial, sans-serif" font-size="26.5" fill="#111">NK3</text>
<text x="24.5" y="66" font-family="Liberation Sans, Arial, sans-serif" font-size="44" font-weight="bold" fill="#000">a</text>
<text x="29.5" y="986" font-family="Liberation Sans, Arial, sans-serif" font-size="47" font-weight="bold" fill="#000">b</text>
<text x="1119" y="56.5" font-family="Liberation Sans, Arial, sans-serif" font-size="47" font-weight="bold" fill="#000">c</text>
<text x="1118" y="507.5" font-family="Liberation Sans, Arial, sans-serif" font-size="47" font-weight="bold" fill="#000">d</text>
<text x="1130" y="977" font-family="Liberation Sans, Arial, sans-serif" font-size="47" font-weight="bold" fill="#000">e</text>
<text x="1137" y="1557" font-family="Liberation Sans, Arial, sans-serif" font-size="47" font-weight="bold" fill="#000">f</text>
</svg></body></html>
